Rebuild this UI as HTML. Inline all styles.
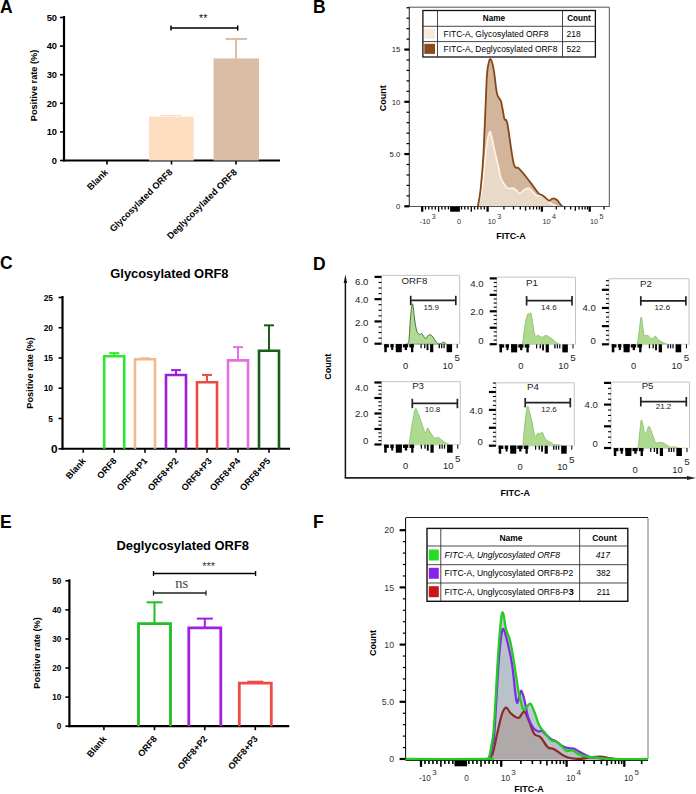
<!DOCTYPE html>
<html><head><meta charset="utf-8"><style>
html,body{margin:0;padding:0;background:#fff;width:696px;height:794px;overflow:hidden}
svg{display:block}
</style></head><body>
<svg width="696" height="794" viewBox="0 0 696 794">
<rect width="696" height="794" fill="#fff"/>
<text x="0" y="12.6" font-size="17.5" font-weight="bold" text-anchor="start" fill="#000" font-family='"Liberation Sans", sans-serif'  >A</text>
<text x="313" y="12.9" font-size="17.5" font-weight="bold" text-anchor="start" fill="#000" font-family='"Liberation Sans", sans-serif'  >B</text>
<text x="0" y="269.4" font-size="17.5" font-weight="bold" text-anchor="start" fill="#000" font-family='"Liberation Sans", sans-serif'  >C</text>
<text x="313" y="269.5" font-size="17.5" font-weight="bold" text-anchor="start" fill="#000" font-family='"Liberation Sans", sans-serif'  >D</text>
<text x="0" y="528" font-size="17.5" font-weight="bold" text-anchor="start" fill="#000" font-family='"Liberation Sans", sans-serif'  >E</text>
<text x="313" y="528" font-size="17.5" font-weight="bold" text-anchor="start" fill="#000" font-family='"Liberation Sans", sans-serif'  >F</text>
<line x1="64" y1="16.0" x2="64" y2="161.5" stroke="#000" stroke-width="2.2" />
<line x1="63" y1="160.5" x2="280" y2="160.5" stroke="#000" stroke-width="2.2" />
<line x1="60" y1="160.5" x2="64" y2="160.5" stroke="#000" stroke-width="1.6" />
<text x="57" y="163.848" font-size="9.3" font-weight="bold" text-anchor="end" fill="#000" font-family='"Liberation Sans", sans-serif'  >0</text>
<line x1="60" y1="131.9" x2="64" y2="131.9" stroke="#000" stroke-width="1.6" />
<text x="57" y="135.24800000000002" font-size="9.3" font-weight="bold" text-anchor="end" fill="#000" font-family='"Liberation Sans", sans-serif'  >10</text>
<line x1="60" y1="103.30000000000001" x2="64" y2="103.30000000000001" stroke="#000" stroke-width="1.6" />
<text x="57" y="106.64800000000001" font-size="9.3" font-weight="bold" text-anchor="end" fill="#000" font-family='"Liberation Sans", sans-serif'  >20</text>
<line x1="60" y1="74.7" x2="64" y2="74.7" stroke="#000" stroke-width="1.6" />
<text x="57" y="78.048" font-size="9.3" font-weight="bold" text-anchor="end" fill="#000" font-family='"Liberation Sans", sans-serif'  >30</text>
<line x1="60" y1="46.10000000000001" x2="64" y2="46.10000000000001" stroke="#000" stroke-width="1.6" />
<text x="57" y="49.44800000000001" font-size="9.3" font-weight="bold" text-anchor="end" fill="#000" font-family='"Liberation Sans", sans-serif'  >40</text>
<line x1="60" y1="17.5" x2="64" y2="17.5" stroke="#000" stroke-width="1.6" />
<text x="57" y="20.848" font-size="9.3" font-weight="bold" text-anchor="end" fill="#000" font-family='"Liberation Sans", sans-serif'  >50</text>
<line x1="107" y1="160.5" x2="107" y2="164.5" stroke="#000" stroke-width="1.6" />
<line x1="171.5" y1="160.5" x2="171.5" y2="164.5" stroke="#000" stroke-width="1.6" />
<line x1="236" y1="160.5" x2="236" y2="164.5" stroke="#000" stroke-width="1.6" />
<rect x="149" y="116.74199999999999" width="44.7" height="43.758" fill="#FDDEC0" stroke="none" stroke-width="0" />
<line x1="171.5" y1="116.74199999999999" x2="171.5" y2="115.59800000000001" stroke="#FDDEC0" stroke-width="1.5" />
<line x1="160" y1="115.59800000000001" x2="181.4" y2="115.59800000000001" stroke="#FDDEC0" stroke-width="1.3" />
<rect x="213.5" y="58.397999999999996" width="45.5" height="102.102" fill="#D9BDA7" stroke="none" stroke-width="0" />
<line x1="236" y1="58.397999999999996" x2="236" y2="38.95" stroke="#D9BDA7" stroke-width="2" />
<line x1="225.5" y1="38.95" x2="247" y2="38.95" stroke="#D9BDA7" stroke-width="2" />
<text transform="translate(33.8,85.5) rotate(-90)" font-size="9.2" font-weight="bold" text-anchor="middle" font-family='"Liberation Sans", sans-serif' dominant-baseline="central">Positive rate (%)</text>
<text transform="translate(108.5,173.0) rotate(-45)" font-size="9.2" font-weight="bold" text-anchor="end" font-family='"Liberation Sans", sans-serif'>Blank</text>
<text transform="translate(173.0,173.0) rotate(-45)" font-size="9.2" font-weight="bold" text-anchor="end" font-family='"Liberation Sans", sans-serif'>Glycosylated ORF8</text>
<text transform="translate(237.5,173.0) rotate(-45)" font-size="9.2" font-weight="bold" text-anchor="end" font-family='"Liberation Sans", sans-serif'>Deglycosylated ORF8</text>
<line x1="171" y1="28" x2="237.7" y2="28" stroke="#000" stroke-width="1.5" />
<line x1="171" y1="25.5" x2="171" y2="30.5" stroke="#000" stroke-width="1.5" />
<line x1="237.7" y1="25.5" x2="237.7" y2="30.5" stroke="#000" stroke-width="1.5" />
<text x="203.2" y="22.2" font-size="10.5" font-weight="normal" text-anchor="middle" fill="#111" font-family='"Liberation Sans", sans-serif'  >**</text>
<line x1="62.5" y1="296.0" x2="62.5" y2="449.75" stroke="#000" stroke-width="2.2" />
<line x1="61.5" y1="448.75" x2="290" y2="448.75" stroke="#000" stroke-width="2.2" />
<line x1="58.5" y1="448.75" x2="62.5" y2="448.75" stroke="#000" stroke-width="1.6" />
<text x="57.5" y="452.998" font-size="11.8" font-weight="bold" text-anchor="end" fill="#000" font-family='"Liberation Sans", sans-serif'  >0</text>
<line x1="58.5" y1="418.5" x2="62.5" y2="418.5" stroke="#000" stroke-width="1.6" />
<text x="53.0" y="421.524" font-size="8.4" font-weight="bold" text-anchor="end" fill="#000" font-family='"Liberation Sans", sans-serif'  >5</text>
<line x1="58.5" y1="388.25" x2="62.5" y2="388.25" stroke="#000" stroke-width="1.6" />
<text x="53.0" y="391.274" font-size="8.4" font-weight="bold" text-anchor="end" fill="#000" font-family='"Liberation Sans", sans-serif'  >10</text>
<line x1="58.5" y1="358.0" x2="62.5" y2="358.0" stroke="#000" stroke-width="1.6" />
<text x="53.0" y="361.024" font-size="8.4" font-weight="bold" text-anchor="end" fill="#000" font-family='"Liberation Sans", sans-serif'  >15</text>
<line x1="58.5" y1="327.75" x2="62.5" y2="327.75" stroke="#000" stroke-width="1.6" />
<text x="53.0" y="330.774" font-size="8.4" font-weight="bold" text-anchor="end" fill="#000" font-family='"Liberation Sans", sans-serif'  >20</text>
<line x1="58.5" y1="297.5" x2="62.5" y2="297.5" stroke="#000" stroke-width="1.6" />
<text x="53.0" y="300.524" font-size="8.4" font-weight="bold" text-anchor="end" fill="#000" font-family='"Liberation Sans", sans-serif'  >25</text>
<line x1="83.25" y1="448.75" x2="83.25" y2="452.75" stroke="#000" stroke-width="1.6" />
<line x1="114.25" y1="448.75" x2="114.25" y2="452.75" stroke="#000" stroke-width="1.6" />
<line x1="145" y1="448.75" x2="145" y2="452.75" stroke="#000" stroke-width="1.6" />
<line x1="176" y1="448.75" x2="176" y2="452.75" stroke="#000" stroke-width="1.6" />
<line x1="207" y1="448.75" x2="207" y2="452.75" stroke="#000" stroke-width="1.6" />
<line x1="238" y1="448.75" x2="238" y2="452.75" stroke="#000" stroke-width="1.6" />
<line x1="269" y1="448.75" x2="269" y2="452.75" stroke="#000" stroke-width="1.6" />
<path d="M104.25 448.75 V356.185 H124.25 V448.75" fill="none" stroke="#2EE82E" stroke-width="2.6"/>
<line x1="114.25" y1="356.185" x2="114.25" y2="353.15999999999997" stroke="#2EE82E" stroke-width="2" />
<line x1="109.25" y1="353.15999999999997" x2="119.25" y2="353.15999999999997" stroke="#2EE82E" stroke-width="2" />
<path d="M135 448.75 V359.21 H155 V448.75" fill="none" stroke="#F4B98A" stroke-width="2.6"/>
<line x1="145" y1="359.21" x2="145" y2="358.3025" stroke="#F4B98A" stroke-width="2" />
<line x1="140" y1="358.3025" x2="150" y2="358.3025" stroke="#F4B98A" stroke-width="2" />
<path d="M166 448.75 V374.94 H186 V448.75" fill="none" stroke="#9A1FD6" stroke-width="2.6"/>
<line x1="176" y1="374.94" x2="176" y2="370.1" stroke="#9A1FD6" stroke-width="2" />
<line x1="171" y1="370.1" x2="181" y2="370.1" stroke="#9A1FD6" stroke-width="2" />
<path d="M197 448.75 V382.2 H217 V448.75" fill="none" stroke="#E84B40" stroke-width="2.6"/>
<line x1="207" y1="382.2" x2="207" y2="374.94" stroke="#E84B40" stroke-width="2" />
<line x1="202" y1="374.94" x2="212" y2="374.94" stroke="#E84B40" stroke-width="2" />
<path d="M228 448.75 V360.42 H248 V448.75" fill="none" stroke="#E46FE4" stroke-width="2.6"/>
<line x1="238" y1="360.42" x2="238" y2="347.11" stroke="#E46FE4" stroke-width="2" />
<line x1="233" y1="347.11" x2="243" y2="347.11" stroke="#E46FE4" stroke-width="2" />
<path d="M259 448.75 V350.74 H279 V448.75" fill="none" stroke="#185F18" stroke-width="2.6"/>
<line x1="269" y1="350.74" x2="269" y2="325.33000000000004" stroke="#185F18" stroke-width="2" />
<line x1="264" y1="325.33000000000004" x2="274" y2="325.33000000000004" stroke="#185F18" stroke-width="2" />
<text transform="translate(30,373) rotate(-90)" font-size="9.2" font-weight="bold" text-anchor="middle" font-family='"Liberation Sans", sans-serif' dominant-baseline="central">Positive rate (%)</text>
<text transform="translate(86.25,461.35) rotate(-48)" font-size="9.1" font-weight="bold" text-anchor="end" font-family='"Liberation Sans", sans-serif'>Blank</text>
<text transform="translate(117.25,461.35) rotate(-48)" font-size="9.1" font-weight="bold" text-anchor="end" font-family='"Liberation Sans", sans-serif'>ORF8</text>
<text transform="translate(148,461.35) rotate(-48)" font-size="9.1" font-weight="bold" text-anchor="end" font-family='"Liberation Sans", sans-serif'>ORF8+P1</text>
<text transform="translate(179,461.35) rotate(-48)" font-size="9.1" font-weight="bold" text-anchor="end" font-family='"Liberation Sans", sans-serif'>ORF8+P2</text>
<text transform="translate(212.5,461.35) rotate(-48)" font-size="9.1" font-weight="bold" text-anchor="end" font-family='"Liberation Sans", sans-serif'>ORF8+P3</text>
<text transform="translate(241,461.35) rotate(-48)" font-size="9.1" font-weight="bold" text-anchor="end" font-family='"Liberation Sans", sans-serif'>ORF8+P4</text>
<text transform="translate(271,461.35) rotate(-48)" font-size="9.1" font-weight="bold" text-anchor="end" font-family='"Liberation Sans", sans-serif'>ORF8+P5</text>
<text x="169.4" y="277.5" font-size="12.9" font-weight="bold" text-anchor="middle" fill="#000" font-family='"Liberation Sans", sans-serif'  >Glycosylated ORF8</text>
<line x1="69.4" y1="579.3" x2="69.4" y2="727.2" stroke="#000" stroke-width="2.2" />
<line x1="68.4" y1="726.2" x2="289.3" y2="726.2" stroke="#000" stroke-width="2.2" />
<line x1="65.4" y1="726.2" x2="69.4" y2="726.2" stroke="#000" stroke-width="1.6" />
<text x="61.400000000000006" y="729.152" font-size="8.2" font-weight="bold" text-anchor="end" fill="#000" font-family='"Liberation Sans", sans-serif'  >0</text>
<line x1="65.4" y1="697.12" x2="69.4" y2="697.12" stroke="#000" stroke-width="1.6" />
<text x="61.400000000000006" y="700.072" font-size="8.2" font-weight="bold" text-anchor="end" fill="#000" font-family='"Liberation Sans", sans-serif'  >10</text>
<line x1="65.4" y1="668.04" x2="69.4" y2="668.04" stroke="#000" stroke-width="1.6" />
<text x="61.400000000000006" y="670.992" font-size="8.2" font-weight="bold" text-anchor="end" fill="#000" font-family='"Liberation Sans", sans-serif'  >20</text>
<line x1="65.4" y1="638.96" x2="69.4" y2="638.96" stroke="#000" stroke-width="1.6" />
<text x="61.400000000000006" y="641.912" font-size="8.2" font-weight="bold" text-anchor="end" fill="#000" font-family='"Liberation Sans", sans-serif'  >30</text>
<line x1="65.4" y1="609.88" x2="69.4" y2="609.88" stroke="#000" stroke-width="1.6" />
<text x="61.400000000000006" y="612.832" font-size="8.2" font-weight="bold" text-anchor="end" fill="#000" font-family='"Liberation Sans", sans-serif'  >40</text>
<line x1="65.4" y1="580.8" x2="69.4" y2="580.8" stroke="#000" stroke-width="1.6" />
<text x="61.400000000000006" y="583.752" font-size="8.2" font-weight="bold" text-anchor="end" fill="#000" font-family='"Liberation Sans", sans-serif'  >50</text>
<line x1="103.9" y1="726.2" x2="103.9" y2="730.2" stroke="#000" stroke-width="1.6" />
<line x1="154.5" y1="726.2" x2="154.5" y2="730.2" stroke="#000" stroke-width="1.6" />
<line x1="204.8" y1="726.2" x2="204.8" y2="730.2" stroke="#000" stroke-width="1.6" />
<line x1="255.3" y1="726.2" x2="255.3" y2="730.2" stroke="#000" stroke-width="1.6" />
<path d="M138.5 726.2 V623.5476 H170.5 V726.2" fill="none" stroke="#22BF22" stroke-width="2.8"/>
<line x1="154.5" y1="623.5476" x2="154.5" y2="602.3191999999999" stroke="#22BF22" stroke-width="2" />
<line x1="146.5" y1="602.3191999999999" x2="162.5" y2="602.3191999999999" stroke="#22BF22" stroke-width="2" />
<path d="M188.8 726.2 V627.9096 H220.8 V726.2" fill="none" stroke="#A21FE0" stroke-width="2.8"/>
<line x1="204.8" y1="627.9096" x2="204.8" y2="618.604" stroke="#A21FE0" stroke-width="2" />
<line x1="196.8" y1="618.604" x2="212.8" y2="618.604" stroke="#A21FE0" stroke-width="2" />
<path d="M239.3 726.2 V683.1616 H271.3 V726.2" fill="none" stroke="#EE4B48" stroke-width="2.8"/>
<line x1="255.3" y1="683.1616" x2="255.3" y2="681.7076000000001" stroke="#EE4B48" stroke-width="2" />
<line x1="247.3" y1="681.7076000000001" x2="263.3" y2="681.7076000000001" stroke="#EE4B48" stroke-width="2" />
<text transform="translate(37,653) rotate(-90)" font-size="9.2" font-weight="bold" text-anchor="middle" font-family='"Liberation Sans", sans-serif' dominant-baseline="central">Positive rate (%)</text>
<text transform="translate(106.9,739.0) rotate(-50)" font-size="9.1" font-weight="bold" text-anchor="end" font-family='"Liberation Sans", sans-serif'>Blank</text>
<text transform="translate(157.5,739.0) rotate(-50)" font-size="9.1" font-weight="bold" text-anchor="end" font-family='"Liberation Sans", sans-serif'>ORF8</text>
<text transform="translate(207.8,739.0) rotate(-50)" font-size="9.1" font-weight="bold" text-anchor="end" font-family='"Liberation Sans", sans-serif'>ORF8+P2</text>
<text transform="translate(258.3,739.0) rotate(-50)" font-size="9.1" font-weight="bold" text-anchor="end" font-family='"Liberation Sans", sans-serif'>ORF8+P3</text>
<text x="182.7" y="549.5" font-size="12.9" font-weight="bold" text-anchor="middle" fill="#000" font-family='"Liberation Sans", sans-serif'  >Deglycosylated ORF8</text>
<line x1="153.5" y1="573.5" x2="255.6" y2="573.5" stroke="#000" stroke-width="1.3" />
<line x1="153.5" y1="571" x2="153.5" y2="576" stroke="#000" stroke-width="1.3" />
<line x1="255.6" y1="571" x2="255.6" y2="576" stroke="#000" stroke-width="1.3" />
<text x="208.6" y="569.8" font-size="11" font-weight="normal" text-anchor="middle" fill="#333" font-family='"Liberation Sans", sans-serif'  >***</text>
<line x1="153.5" y1="593" x2="206" y2="593" stroke="#222" stroke-width="1.3" />
<line x1="153.5" y1="590.5" x2="153.5" y2="595.5" stroke="#222" stroke-width="1.3" />
<line x1="206" y1="590.5" x2="206" y2="595.5" stroke="#222" stroke-width="1.3" />
<text x="181.8" y="588.3" font-size="14.5" font-weight="normal" text-anchor="middle" fill="#444" font-family='"Liberation Serif", serif'  >ns</text>
<line x1="409.3" y1="7.2" x2="609.3" y2="7.2" stroke="#555" stroke-width="1" />
<line x1="609.3" y1="7.2" x2="609.3" y2="206.3" stroke="#555" stroke-width="1" />
<path d="M477.9 206.3 C478.3 203.6 479.6 198.8 480.5 190.0 C481.4 181.2 482.5 172.0 483.5 153.8 C484.5 135.6 485.8 96.0 486.6 81.0 C487.4 66.0 487.8 67.6 488.5 64.0 C489.2 60.4 489.9 58.2 490.8 59.3 C491.7 60.4 492.9 65.1 493.9 70.8 C494.9 76.5 495.8 88.4 497.0 93.6 C498.2 98.8 500.0 97.8 501.2 102.0 C502.4 106.2 503.3 114.9 504.3 118.5 C505.3 122.1 505.8 116.2 507.4 123.7 C508.9 131.2 511.7 155.8 513.6 163.2 C515.5 170.6 516.7 166.2 518.8 168.4 C520.9 170.7 523.8 173.9 526.0 176.7 C528.2 179.5 530.2 182.2 532.3 185.0 C534.4 187.8 536.8 191.6 538.5 193.3 C540.2 195.0 541.0 194.2 542.7 195.4 C544.4 196.6 547.4 200.0 548.9 200.6 C550.4 201.2 550.6 199.3 551.5 199.0 C552.4 198.7 553.2 198.3 554.1 198.5 C555.0 198.7 555.8 198.8 557.0 200.0 C558.2 201.2 560.4 204.4 561.4 205.5 C562.4 206.6 562.7 206.2 563.0 206.3 Z" fill="#D3B59B" stroke="none"/>
<path d="M478.0 206.3 C478.7 203.6 480.8 197.7 482.0 190.0 C483.2 182.3 484.1 168.3 485.0 160.0 C485.9 151.7 486.7 144.7 487.5 140.0 C488.3 135.3 489.0 132.7 489.7 132.0 C490.4 131.3 490.6 132.7 491.5 136.0 C492.4 139.3 493.8 147.0 494.9 151.8 C496.0 156.6 496.9 160.5 498.0 165.0 C499.1 169.5 499.8 175.1 501.2 178.8 C502.6 182.5 505.0 185.4 506.3 187.0 C507.6 188.6 507.9 188.3 509.0 188.5 C510.1 188.7 511.4 187.8 512.6 188.1 C513.8 188.3 514.8 189.1 516.0 190.0 C517.2 190.9 518.5 193.3 519.8 193.3 C521.1 193.3 522.6 190.9 524.0 190.0 C525.4 189.1 526.9 187.9 528.2 188.1 C529.5 188.3 530.6 189.8 532.0 191.0 C533.4 192.2 534.7 194.7 536.5 195.4 C538.3 196.1 541.1 195.0 542.7 195.4 C544.3 195.8 544.8 196.8 546.0 198.0 C547.2 199.2 548.7 201.4 550.0 202.6 C551.3 203.8 552.8 204.4 554.0 205.0 C555.2 205.6 556.7 206.1 557.2 206.3 Z" fill="#E9D9C9" stroke="none"/>
<path d="M478.0 206.3 C478.7 203.6 480.8 197.7 482.0 190.0 C483.2 182.3 484.1 168.3 485.0 160.0 C485.9 151.7 486.7 144.7 487.5 140.0 C488.3 135.3 489.0 132.7 489.7 132.0 C490.4 131.3 490.6 132.7 491.5 136.0 C492.4 139.3 493.8 147.0 494.9 151.8 C496.0 156.6 496.9 160.5 498.0 165.0 C499.1 169.5 499.8 175.1 501.2 178.8 C502.6 182.5 505.0 185.4 506.3 187.0 C507.6 188.6 507.9 188.3 509.0 188.5 C510.1 188.7 511.4 187.8 512.6 188.1 C513.8 188.3 514.8 189.1 516.0 190.0 C517.2 190.9 518.5 193.3 519.8 193.3 C521.1 193.3 522.6 190.9 524.0 190.0 C525.4 189.1 526.9 187.9 528.2 188.1 C529.5 188.3 530.6 189.8 532.0 191.0 C533.4 192.2 534.7 194.7 536.5 195.4 C538.3 196.1 541.1 195.0 542.7 195.4 C544.3 195.8 544.8 196.8 546.0 198.0 C547.2 199.2 548.7 201.4 550.0 202.6 C551.3 203.8 552.8 204.4 554.0 205.0 C555.2 205.6 556.7 206.1 557.2 206.3" fill="none" stroke="#FFF4E6" stroke-width="1.6"/>
<path d="M477.9 206.3 C478.3 203.6 479.6 198.8 480.5 190.0 C481.4 181.2 482.5 172.0 483.5 153.8 C484.5 135.6 485.8 96.0 486.6 81.0 C487.4 66.0 487.8 67.6 488.5 64.0 C489.2 60.4 489.9 58.2 490.8 59.3 C491.7 60.4 492.9 65.1 493.9 70.8 C494.9 76.5 495.8 88.4 497.0 93.6 C498.2 98.8 500.0 97.8 501.2 102.0 C502.4 106.2 503.3 114.9 504.3 118.5 C505.3 122.1 505.8 116.2 507.4 123.7 C508.9 131.2 511.7 155.8 513.6 163.2 C515.5 170.6 516.7 166.2 518.8 168.4 C520.9 170.7 523.8 173.9 526.0 176.7 C528.2 179.5 530.2 182.2 532.3 185.0 C534.4 187.8 536.8 191.6 538.5 193.3 C540.2 195.0 541.0 194.2 542.7 195.4 C544.4 196.6 547.4 200.0 548.9 200.6 C550.4 201.2 550.6 199.3 551.5 199.0 C552.4 198.7 553.2 198.3 554.1 198.5 C555.0 198.7 555.8 198.8 557.0 200.0 C558.2 201.2 560.4 204.4 561.4 205.5 C562.4 206.6 562.7 206.2 563.0 206.3" fill="none" stroke="#84491B" stroke-width="1.8"/>
<line x1="409.3" y1="6.7" x2="409.3" y2="206.8" stroke="#333" stroke-width="1.1" />
<line x1="409.3" y1="206.5" x2="609.8" y2="206.5" stroke="#555" stroke-width="1" />
<line x1="404.3" y1="206.3" x2="409.3" y2="206.3" stroke="#000" stroke-width="2.2" />
<line x1="406.5" y1="195.85000000000002" x2="409.3" y2="195.85000000000002" stroke="#000" stroke-width="1.2" />
<line x1="406.5" y1="185.4" x2="409.3" y2="185.4" stroke="#000" stroke-width="1.2" />
<line x1="406.5" y1="174.95000000000002" x2="409.3" y2="174.95000000000002" stroke="#000" stroke-width="1.2" />
<line x1="406.5" y1="164.5" x2="409.3" y2="164.5" stroke="#000" stroke-width="1.2" />
<line x1="404.3" y1="154.05" x2="409.3" y2="154.05" stroke="#000" stroke-width="2.2" />
<line x1="406.5" y1="143.60000000000002" x2="409.3" y2="143.60000000000002" stroke="#000" stroke-width="1.2" />
<line x1="406.5" y1="133.15000000000003" x2="409.3" y2="133.15000000000003" stroke="#000" stroke-width="1.2" />
<line x1="406.5" y1="122.70000000000002" x2="409.3" y2="122.70000000000002" stroke="#000" stroke-width="1.2" />
<line x1="406.5" y1="112.25000000000001" x2="409.3" y2="112.25000000000001" stroke="#000" stroke-width="1.2" />
<line x1="404.3" y1="101.80000000000001" x2="409.3" y2="101.80000000000001" stroke="#000" stroke-width="2.2" />
<line x1="406.5" y1="91.35000000000002" x2="409.3" y2="91.35000000000002" stroke="#000" stroke-width="1.2" />
<line x1="406.5" y1="80.90000000000002" x2="409.3" y2="80.90000000000002" stroke="#000" stroke-width="1.2" />
<line x1="406.5" y1="70.45000000000002" x2="409.3" y2="70.45000000000002" stroke="#000" stroke-width="1.2" />
<line x1="406.5" y1="60.00000000000003" x2="409.3" y2="60.00000000000003" stroke="#000" stroke-width="1.2" />
<line x1="404.3" y1="49.55000000000001" x2="409.3" y2="49.55000000000001" stroke="#000" stroke-width="2.2" />
<line x1="406.5" y1="39.10000000000002" x2="409.3" y2="39.10000000000002" stroke="#000" stroke-width="1.2" />
<line x1="406.5" y1="28.650000000000034" x2="409.3" y2="28.650000000000034" stroke="#000" stroke-width="1.2" />
<line x1="406.5" y1="18.200000000000017" x2="409.3" y2="18.200000000000017" stroke="#000" stroke-width="1.2" />
<line x1="406.5" y1="7.750000000000028" x2="409.3" y2="7.750000000000028" stroke="#000" stroke-width="1.2" />
<text x="400.3" y="209.072" font-size="7.7" font-weight="normal" text-anchor="end" fill="#222" font-family='"Liberation Sans", sans-serif'  >0</text>
<text x="400.3" y="156.822" font-size="7.7" font-weight="normal" text-anchor="end" fill="#222" font-family='"Liberation Sans", sans-serif'  >5.0</text>
<text x="400.3" y="104.57200000000002" font-size="7.7" font-weight="normal" text-anchor="end" fill="#222" font-family='"Liberation Sans", sans-serif'  >10</text>
<text x="400.3" y="52.32200000000001" font-size="7.7" font-weight="normal" text-anchor="end" fill="#222" font-family='"Liberation Sans", sans-serif'  >15</text>
<line x1="425.48" y1="206.5" x2="425.48" y2="209.5" stroke="#000" stroke-width="1.3" />
<line x1="428.76" y1="206.5" x2="428.76" y2="209.5" stroke="#000" stroke-width="1.3" />
<line x1="432.03999999999996" y1="206.5" x2="432.03999999999996" y2="209.5" stroke="#000" stroke-width="1.3" />
<line x1="435.32" y1="206.5" x2="435.32" y2="209.5" stroke="#000" stroke-width="1.3" />
<line x1="438.6" y1="206.5" x2="438.6" y2="211.7" stroke="#000" stroke-width="1.3" />
<line x1="441.88" y1="206.5" x2="441.88" y2="209.5" stroke="#000" stroke-width="1.3" />
<line x1="445.15999999999997" y1="206.5" x2="445.15999999999997" y2="209.5" stroke="#000" stroke-width="1.3" />
<line x1="448.44" y1="206.5" x2="448.44" y2="209.5" stroke="#000" stroke-width="1.3" />
<line x1="461.52" y1="206.5" x2="461.52" y2="209.5" stroke="#000" stroke-width="1.3" />
<line x1="464.78000000000003" y1="206.5" x2="464.78000000000003" y2="209.5" stroke="#000" stroke-width="1.3" />
<line x1="468.04" y1="206.5" x2="468.04" y2="209.5" stroke="#000" stroke-width="1.3" />
<line x1="471.3" y1="206.5" x2="471.3" y2="211.7" stroke="#000" stroke-width="1.3" />
<line x1="474.56" y1="206.5" x2="474.56" y2="209.5" stroke="#000" stroke-width="1.3" />
<line x1="477.82" y1="206.5" x2="477.82" y2="209.5" stroke="#000" stroke-width="1.3" />
<line x1="481.08000000000004" y1="206.5" x2="481.08000000000004" y2="209.5" stroke="#000" stroke-width="1.3" />
<line x1="484.34000000000003" y1="206.5" x2="484.34000000000003" y2="209.5" stroke="#000" stroke-width="1.3" />
<rect x="450.1" y="206.5" width="9.8" height="5.2" fill="#000" stroke="none" stroke-width="0" />
<line x1="503.9459287645542" y1="206.5" x2="503.9459287645542" y2="209.5" stroke="#000" stroke-width="1.3" />
<line x1="513.5076841312776" y1="206.5" x2="513.5076841312776" y2="209.5" stroke="#000" stroke-width="1.3" />
<line x1="520.2918575291084" y1="206.5" x2="520.2918575291084" y2="209.5" stroke="#000" stroke-width="1.3" />
<line x1="525.5540712354458" y1="206.5" x2="525.5540712354458" y2="210.66" stroke="#000" stroke-width="1.3" />
<line x1="529.8536128958318" y1="206.5" x2="529.8536128958318" y2="209.5" stroke="#000" stroke-width="1.3" />
<line x1="533.4888235727741" y1="206.5" x2="533.4888235727741" y2="209.5" stroke="#000" stroke-width="1.3" />
<line x1="536.6377862936625" y1="206.5" x2="536.6377862936625" y2="209.5" stroke="#000" stroke-width="1.3" />
<line x1="539.4153682625554" y1="206.5" x2="539.4153682625554" y2="209.5" stroke="#000" stroke-width="1.3" />
<line x1="556.2892337927383" y1="206.5" x2="556.2892337927383" y2="209.5" stroke="#000" stroke-width="1.3" />
<line x1="564.7063959755999" y1="206.5" x2="564.7063959755999" y2="209.5" stroke="#000" stroke-width="1.3" />
<line x1="570.6784675854766" y1="206.5" x2="570.6784675854766" y2="209.5" stroke="#000" stroke-width="1.3" />
<line x1="575.3107662072617" y1="206.5" x2="575.3107662072617" y2="210.66" stroke="#000" stroke-width="1.3" />
<line x1="579.0956297683382" y1="206.5" x2="579.0956297683382" y2="209.5" stroke="#000" stroke-width="1.3" />
<line x1="582.2956863126815" y1="206.5" x2="582.2956863126815" y2="209.5" stroke="#000" stroke-width="1.3" />
<line x1="585.0677013782149" y1="206.5" x2="585.0677013782149" y2="209.5" stroke="#000" stroke-width="1.3" />
<line x1="587.5127919511998" y1="206.5" x2="587.5127919511998" y2="209.5" stroke="#000" stroke-width="1.3" />
<line x1="604.0892337927384" y1="206.5" x2="604.0892337927384" y2="209.5" stroke="#000" stroke-width="1.3" />
<line x1="422.2" y1="206.5" x2="422.2" y2="211.7" stroke="#000" stroke-width="2.3" />
<line x1="487.6" y1="206.5" x2="487.6" y2="211.7" stroke="#000" stroke-width="2.3" />
<line x1="541.9" y1="206.5" x2="541.9" y2="211.7" stroke="#000" stroke-width="2.3" />
<line x1="589.7" y1="206.5" x2="589.7" y2="211.7" stroke="#000" stroke-width="2.3" />
<text x="419.8" y="223.7" font-size="7.3" fill="#333" font-family='"Liberation Sans", sans-serif'>-10<tspan dy="-4.82" dx="1.3" font-size="7.15">3</tspan></text>
<text x="459" y="223.7" font-size="7.3" font-weight="normal" text-anchor="middle" fill="#333" font-family='"Liberation Sans", sans-serif'  >0</text>
<text x="487.8" y="223.7" font-size="7.3" fill="#333" font-family='"Liberation Sans", sans-serif'>10<tspan dy="-4.82" dx="1.3" font-size="7.15">3</tspan></text>
<text x="542.5" y="223.7" font-size="7.3" fill="#333" font-family='"Liberation Sans", sans-serif'>10<tspan dy="-4.82" dx="1.3" font-size="7.15">4</tspan></text>
<text x="590" y="223.7" font-size="7.3" fill="#333" font-family='"Liberation Sans", sans-serif'>10<tspan dy="-4.82" dx="1.3" font-size="7.15">5</tspan></text>
<text transform="translate(383,98.2) rotate(-90)" font-size="9" font-weight="bold" text-anchor="middle" font-family='"Liberation Sans", sans-serif' dominant-baseline="central">Count</text>
<text x="511" y="239" font-size="9" font-weight="bold" text-anchor="middle" fill="#000" font-family='"Liberation Sans", sans-serif'  >FITC-A</text>
<rect x="422.9" y="10.5" width="172.5" height="46.5" fill="#fff" stroke="#111" stroke-width="1.3" />
<line x1="422.9" y1="26.3" x2="595.4" y2="26.3" stroke="#333" stroke-width="0.9" />
<line x1="422.9" y1="41.6" x2="595.4" y2="41.6" stroke="#333" stroke-width="0.9" />
<line x1="437.5" y1="10.5" x2="437.5" y2="57" stroke="#333" stroke-width="0.9" />
<line x1="562.5" y1="10.5" x2="562.5" y2="57" stroke="#333" stroke-width="0.9" />
<rect x="424.3" y="28.7" width="10.7" height="10.1" fill="#FBEADB" stroke="none" stroke-width="0" />
<rect x="424.3" y="43.8" width="10.7" height="10.1" fill="#8A4A1A" stroke="none" stroke-width="0" />
<text x="494" y="21.3" font-size="8.2" font-weight="bold" text-anchor="middle" fill="#000" font-family='"Liberation Sans", sans-serif'  >Name</text>
<text x="579" y="21.3" font-size="8.2" font-weight="bold" text-anchor="middle" fill="#000" font-family='"Liberation Sans", sans-serif'  >Count</text>
<text x="443.5" y="37" font-size="8.45" font-weight="normal" text-anchor="start" fill="#000" font-family='"Liberation Sans", sans-serif'  >FITC-A, Glycosylated ORF8</text>
<text x="443.5" y="52.4" font-size="8.45" font-weight="normal" text-anchor="start" fill="#000" font-family='"Liberation Sans", sans-serif'  >FITC-A, Deglycosylated ORF8</text>
<text x="566.5" y="37" font-size="8.45" font-weight="normal" text-anchor="start" fill="#000" font-family='"Liberation Sans", sans-serif'  >218</text>
<text x="566.5" y="52.4" font-size="8.45" font-weight="normal" text-anchor="start" fill="#000" font-family='"Liberation Sans", sans-serif'  >522</text>
<line x1="345.4" y1="281" x2="345.4" y2="478" stroke="#111" stroke-width="1.5" />
<path d="M345.4 274.5 L347.1 283 L343.7 283 Z" fill="#111"/>
<line x1="344.7" y1="477.9" x2="689" y2="477.9" stroke="#222" stroke-width="1.8" />
<path d="M696 477.9 L687 475.9 L687 479.9 Z" fill="#222"/>
<text transform="translate(328.3,366.7) rotate(-90)" font-size="9" font-weight="bold" text-anchor="middle" font-family='"Liberation Sans", sans-serif' dominant-baseline="central">Count</text>
<text x="515.3" y="496" font-size="9" font-weight="bold" text-anchor="middle" fill="#000" font-family='"Liberation Sans", sans-serif'  >FITC-A</text>
<path d="M381.5 344.2 V275.4 H459.7 V344.2" fill="none" stroke="#bdbdbd" stroke-width="0.9"/>
<path d="M406.0 344.2 C406.3 344.1 407.3 344.6 407.8 343.6 C408.3 342.6 408.8 342.3 409.2 338.0 C409.6 333.7 409.9 323.7 410.5 318.0 C411.1 312.3 411.8 303.4 412.5 303.7 C413.2 304.0 414.0 315.4 414.7 320.0 C415.4 324.6 416.0 328.7 416.8 331.1 C417.6 333.5 418.8 334.2 419.6 334.6 C420.4 335.0 420.7 332.8 421.7 333.5 C422.7 334.2 424.5 338.4 425.5 338.8 C426.5 339.1 426.9 336.2 427.9 335.6 C428.9 335.0 430.1 334.4 431.4 335.3 C432.7 336.2 434.5 339.8 435.6 341.2 C436.8 342.6 437.4 343.2 438.3 343.6 C439.2 344.0 440.2 343.6 441.1 343.4 C442.0 343.2 443.0 342.1 443.9 342.2 C444.8 342.3 446.1 343.9 446.5 344.2 Z" fill="#B2DC96" stroke="#3F5E33" stroke-width="0.9"/>
<line x1="381.5" y1="344.2" x2="459.7" y2="344.2" stroke="#c9dcbc" stroke-width="0.9" />
<rect x="374.5" y="342.59999999999997" width="7" height="2.2" fill="#000" stroke="none" stroke-width="0" />
<rect x="378.5" y="337.5825" width="3" height="1.1" fill="#000" stroke="none" stroke-width="0" />
<rect x="378.5" y="332.015" width="3" height="1.1" fill="#000" stroke="none" stroke-width="0" />
<rect x="378.5" y="326.4475" width="3" height="1.1" fill="#000" stroke="none" stroke-width="0" />
<rect x="374.5" y="320.33" width="7" height="2.2" fill="#000" stroke="none" stroke-width="0" />
<rect x="378.5" y="315.3125" width="3" height="1.1" fill="#000" stroke="none" stroke-width="0" />
<rect x="378.5" y="309.745" width="3" height="1.1" fill="#000" stroke="none" stroke-width="0" />
<rect x="378.5" y="304.1775" width="3" height="1.1" fill="#000" stroke="none" stroke-width="0" />
<rect x="374.5" y="298.05999999999995" width="7" height="2.2" fill="#000" stroke="none" stroke-width="0" />
<rect x="378.5" y="293.04249999999996" width="3" height="1.1" fill="#000" stroke="none" stroke-width="0" />
<rect x="378.5" y="287.47499999999997" width="3" height="1.1" fill="#000" stroke="none" stroke-width="0" />
<rect x="378.5" y="281.90749999999997" width="3" height="1.1" fill="#000" stroke="none" stroke-width="0" />
<rect x="374.5" y="275.78999999999996" width="7" height="2.2" fill="#000" stroke="none" stroke-width="0" />
<text x="368.4" y="343.29999999999995" font-size="9.6" font-weight="normal" text-anchor="end" fill="#222" font-family='"Liberation Sans", sans-serif'  >0</text>
<text x="368.4" y="325.5" font-size="9.6" font-weight="normal" text-anchor="end" fill="#222" font-family='"Liberation Sans", sans-serif'  >2.0</text>
<text x="368.4" y="303.2" font-size="9.6" font-weight="normal" text-anchor="end" fill="#222" font-family='"Liberation Sans", sans-serif'  >4.0</text>
<text x="368.4" y="284.9" font-size="9.6" font-weight="normal" text-anchor="end" fill="#222" font-family='"Liberation Sans", sans-serif'  >6.0</text>
<rect x="384.3" y="344.2" width="4.6000000000000005" height="3.2" fill="#000" stroke="none" stroke-width="0" />
<rect x="390.3" y="344.2" width="3.3999999999999986" height="3.2" fill="#000" stroke="none" stroke-width="0" />
<rect x="395.8" y="344.2" width="6.0" height="3.2" fill="#000" stroke="none" stroke-width="0" />
<rect x="402.9" y="344.2" width="5.200000000000003" height="3.2" fill="#000" stroke="none" stroke-width="0" />
<rect x="409.3" y="344.2" width="4.599999999999998" height="3.2" fill="#000" stroke="none" stroke-width="0" />
<rect x="384.3" y="344.2" width="2.5" height="8" fill="#000" stroke="none" stroke-width="0" />
<rect x="391.2" y="344.2" width="2.0" height="5.8" fill="#000" stroke="none" stroke-width="0" />
<rect x="395.8" y="344.2" width="6.0" height="8" fill="#000" stroke="none" stroke-width="0" />
<rect x="404.7" y="344.2" width="2.3000000000000007" height="5.8" fill="#000" stroke="none" stroke-width="0" />
<rect x="411.0" y="344.2" width="2.3000000000000007" height="8" fill="#000" stroke="none" stroke-width="0" />
<rect x="420.5" y="344.2" width="1.2000000000000028" height="4" fill="#000" stroke="none" stroke-width="0" />
<rect x="424.1" y="344.2" width="1.2999999999999972" height="4" fill="#000" stroke="none" stroke-width="0" />
<rect x="426.6" y="344.2" width="1.7999999999999972" height="6" fill="#000" stroke="none" stroke-width="0" />
<rect x="430.1" y="344.2" width="3.1999999999999957" height="8" fill="#000" stroke="none" stroke-width="0" />
<rect x="438.6" y="344.2" width="1.2999999999999972" height="4" fill="#000" stroke="none" stroke-width="0" />
<rect x="441.1" y="344.2" width="1.1999999999999957" height="4" fill="#000" stroke="none" stroke-width="0" />
<rect x="443.5" y="344.2" width="1.2000000000000028" height="4" fill="#000" stroke="none" stroke-width="0" />
<rect x="446.6" y="344.2" width="5.5" height="8" fill="#000" stroke="none" stroke-width="0" />
<rect x="456.7" y="344.2" width="1.0" height="4" fill="#000" stroke="none" stroke-width="0" />
<text x="405.5" y="368.7" font-size="9.3" font-weight="normal" text-anchor="middle" fill="#222" font-family='"Liberation Sans", sans-serif'  >0</text>
<text x="442.6" y="368.7" font-size="9.3" font-weight="normal" text-anchor="start" fill="#222" font-family='"Liberation Sans", sans-serif'  >10</text>
<text x="454.5" y="361.0" font-size="9.8" font-weight="normal" text-anchor="start" fill="#222" font-family='"Liberation Sans", sans-serif'  >5</text>
<line x1="410.7" y1="300.4" x2="455.8" y2="300.4" stroke="#222" stroke-width="1.7" />
<line x1="410.7" y1="295.79999999999995" x2="410.7" y2="305.2" stroke="#222" stroke-width="1.7" />
<line x1="455.8" y1="295.79999999999995" x2="455.8" y2="305.2" stroke="#222" stroke-width="1.7" />
<text x="431.25" y="309.9" font-size="8" font-weight="normal" text-anchor="middle" fill="#222" font-family='"Liberation Sans", sans-serif'  >15.9</text>
<text x="414.4" y="284.0" font-size="9.7" font-weight="normal" text-anchor="middle" fill="#222" font-family='"Liberation Sans", sans-serif'  >ORF8</text>
<path d="M496.7 344.4 V277.2 H575.5 V344.4" fill="none" stroke="#bdbdbd" stroke-width="0.9"/>
<path d="M521.0 344.4 C521.3 344.2 521.9 346.2 522.6 343.0 C523.3 339.8 524.1 329.8 525.0 325.0 C525.9 320.2 527.0 315.7 527.8 314.0 C528.5 312.3 528.9 315.0 529.5 315.0 C530.1 315.0 530.3 310.7 531.2 314.0 C532.1 317.3 533.6 331.2 534.7 334.7 C535.9 338.2 537.0 334.8 538.1 335.2 C539.2 335.6 540.3 337.1 541.6 337.2 C542.9 337.2 544.3 335.4 545.9 335.5 C547.5 335.6 549.5 337.1 551.0 338.1 C552.5 339.1 553.5 340.4 555.0 341.5 C556.5 342.6 558.9 343.9 559.7 344.4 Z" fill="#AEDA90" stroke="#84BA63" stroke-width="0.8"/>
<line x1="496.7" y1="344.4" x2="575.5" y2="344.4" stroke="#c9dcbc" stroke-width="0.9" />
<rect x="489.7" y="343.09999999999997" width="7" height="2.2" fill="#000" stroke="none" stroke-width="0" />
<rect x="493.7" y="339.53749999999997" width="3" height="1.1" fill="#000" stroke="none" stroke-width="0" />
<rect x="493.7" y="335.42499999999995" width="3" height="1.1" fill="#000" stroke="none" stroke-width="0" />
<rect x="493.7" y="331.3125" width="3" height="1.1" fill="#000" stroke="none" stroke-width="0" />
<rect x="489.7" y="326.65" width="7" height="2.2" fill="#000" stroke="none" stroke-width="0" />
<rect x="493.7" y="323.0875" width="3" height="1.1" fill="#000" stroke="none" stroke-width="0" />
<rect x="493.7" y="318.97499999999997" width="3" height="1.1" fill="#000" stroke="none" stroke-width="0" />
<rect x="493.7" y="314.8625" width="3" height="1.1" fill="#000" stroke="none" stroke-width="0" />
<rect x="489.7" y="310.2" width="7" height="2.2" fill="#000" stroke="none" stroke-width="0" />
<rect x="493.7" y="306.6375" width="3" height="1.1" fill="#000" stroke="none" stroke-width="0" />
<rect x="493.7" y="302.525" width="3" height="1.1" fill="#000" stroke="none" stroke-width="0" />
<rect x="493.7" y="298.4125" width="3" height="1.1" fill="#000" stroke="none" stroke-width="0" />
<rect x="489.7" y="293.75" width="7" height="2.2" fill="#000" stroke="none" stroke-width="0" />
<rect x="493.7" y="290.1875" width="3" height="1.1" fill="#000" stroke="none" stroke-width="0" />
<rect x="493.7" y="286.075" width="3" height="1.1" fill="#000" stroke="none" stroke-width="0" />
<rect x="493.7" y="281.96250000000003" width="3" height="1.1" fill="#000" stroke="none" stroke-width="0" />
<rect x="489.7" y="277.29999999999995" width="7" height="2.2" fill="#000" stroke="none" stroke-width="0" />
<text x="483.59999999999997" y="343.7" font-size="9.6" font-weight="normal" text-anchor="end" fill="#222" font-family='"Liberation Sans", sans-serif'  >0</text>
<text x="483.59999999999997" y="315.2" font-size="9.6" font-weight="normal" text-anchor="end" fill="#222" font-family='"Liberation Sans", sans-serif'  >2.0</text>
<text x="483.59999999999997" y="287.2" font-size="9.6" font-weight="normal" text-anchor="end" fill="#222" font-family='"Liberation Sans", sans-serif'  >4.0</text>
<rect x="499.52148337595906" y="344.4" width="4.63529411764706" height="3.2" fill="#000" stroke="none" stroke-width="0" />
<rect x="505.5675191815857" y="344.4" width="3.4260869565217384" height="3.2" fill="#000" stroke="none" stroke-width="0" />
<rect x="511.10971867007675" y="344.4" width="6.0460358056266" height="3.2" fill="#000" stroke="none" stroke-width="0" />
<rect x="518.2641943734016" y="344.4" width="5.239897698209723" height="3.2" fill="#000" stroke="none" stroke-width="0" />
<rect x="524.7132992327365" y="344.4" width="4.6352941176470575" height="3.2" fill="#000" stroke="none" stroke-width="0" />
<rect x="499.52148337595906" y="344.4" width="2.51918158567775" height="8" fill="#000" stroke="none" stroke-width="0" />
<rect x="506.47442455242964" y="344.4" width="2.0153452685422" height="5.8" fill="#000" stroke="none" stroke-width="0" />
<rect x="511.10971867007675" y="344.4" width="6.0460358056266" height="8" fill="#000" stroke="none" stroke-width="0" />
<rect x="520.0780051150895" y="344.4" width="2.3176470588235305" height="5.8" fill="#000" stroke="none" stroke-width="0" />
<rect x="526.4263427109975" y="344.4" width="2.3176470588235305" height="8" fill="#000" stroke="none" stroke-width="0" />
<rect x="535.9992327365729" y="344.4" width="1.2092071611253228" height="4" fill="#000" stroke="none" stroke-width="0" />
<rect x="539.6268542199489" y="344.4" width="1.3099744245524272" height="4" fill="#000" stroke="none" stroke-width="0" />
<rect x="542.1460358056266" y="344.4" width="1.8138107416879772" height="6" fill="#000" stroke="none" stroke-width="0" />
<rect x="545.6728900255755" y="344.4" width="3.224552429667516" height="8" fill="#000" stroke="none" stroke-width="0" />
<rect x="554.2381074168798" y="344.4" width="1.3099744245524272" height="4" fill="#000" stroke="none" stroke-width="0" />
<rect x="556.7572890025575" y="344.4" width="1.2092071611253157" height="4" fill="#000" stroke="none" stroke-width="0" />
<rect x="559.1757033248082" y="344.4" width="1.2092071611253228" height="4" fill="#000" stroke="none" stroke-width="0" />
<rect x="562.2994884910486" y="344.4" width="5.54219948849105" height="8" fill="#000" stroke="none" stroke-width="0" />
<rect x="572.4769820971867" y="344.4" width="1.0076726342711" height="4" fill="#000" stroke="none" stroke-width="0" />
<text x="520.8841432225064" y="368.9" font-size="9.3" font-weight="normal" text-anchor="middle" fill="#222" font-family='"Liberation Sans", sans-serif'  >0</text>
<text x="558.2687979539642" y="368.9" font-size="9.3" font-weight="normal" text-anchor="start" fill="#222" font-family='"Liberation Sans", sans-serif'  >10</text>
<text x="570.2601023017903" y="361.2" font-size="9.8" font-weight="normal" text-anchor="start" fill="#222" font-family='"Liberation Sans", sans-serif'  >5</text>
<line x1="526.6" y1="300.7" x2="572" y2="300.7" stroke="#222" stroke-width="1.7" />
<line x1="526.6" y1="296.09999999999997" x2="526.6" y2="305.5" stroke="#222" stroke-width="1.7" />
<line x1="572" y1="296.09999999999997" x2="572" y2="305.5" stroke="#222" stroke-width="1.7" />
<text x="548.9" y="310.2" font-size="8" font-weight="normal" text-anchor="middle" fill="#222" font-family='"Liberation Sans", sans-serif'  >14.6</text>
<text x="532" y="286.0" font-size="9.7" font-weight="normal" text-anchor="middle" fill="#222" font-family='"Liberation Sans", sans-serif'  >P1</text>
<path d="M608.9 344.3 V278.7 H689 V344.3" fill="none" stroke="#bdbdbd" stroke-width="0.9"/>
<path d="M636.0 344.3 C636.2 344.1 637.0 345.4 637.5 343.0 C638.0 340.6 638.7 334.3 639.3 330.0 C639.9 325.7 640.5 318.0 641.1 317.2 C641.7 316.4 642.1 322.1 642.6 325.0 C643.1 327.9 643.4 332.8 644.0 334.5 C644.6 336.2 645.3 335.2 646.0 335.4 C646.7 335.6 647.4 335.1 648.3 335.7 C649.2 336.2 650.4 338.6 651.6 338.7 C652.8 338.8 654.4 336.2 655.5 336.3 C656.6 336.4 656.9 338.6 658.0 339.5 C659.1 340.4 660.5 341.2 662.0 342.0 C663.5 342.8 666.2 343.9 667.0 344.3 Z" fill="#AEDA90" stroke="#84BA63" stroke-width="0.8"/>
<line x1="608.9" y1="344.3" x2="689" y2="344.3" stroke="#c9dcbc" stroke-width="0.9" />
<rect x="601.9" y="343.2" width="7" height="2.2" fill="#000" stroke="none" stroke-width="0" />
<rect x="605.9" y="339.2075" width="3" height="1.1" fill="#000" stroke="none" stroke-width="0" />
<rect x="605.9" y="334.665" width="3" height="1.1" fill="#000" stroke="none" stroke-width="0" />
<rect x="605.9" y="330.1225" width="3" height="1.1" fill="#000" stroke="none" stroke-width="0" />
<rect x="601.9" y="325.03" width="7" height="2.2" fill="#000" stroke="none" stroke-width="0" />
<rect x="605.9" y="321.03749999999997" width="3" height="1.1" fill="#000" stroke="none" stroke-width="0" />
<rect x="605.9" y="316.495" width="3" height="1.1" fill="#000" stroke="none" stroke-width="0" />
<rect x="605.9" y="311.9525" width="3" height="1.1" fill="#000" stroke="none" stroke-width="0" />
<rect x="601.9" y="306.86" width="7" height="2.2" fill="#000" stroke="none" stroke-width="0" />
<rect x="605.9" y="302.8675" width="3" height="1.1" fill="#000" stroke="none" stroke-width="0" />
<rect x="605.9" y="298.32500000000005" width="3" height="1.1" fill="#000" stroke="none" stroke-width="0" />
<rect x="605.9" y="293.7825" width="3" height="1.1" fill="#000" stroke="none" stroke-width="0" />
<rect x="601.9" y="288.69" width="7" height="2.2" fill="#000" stroke="none" stroke-width="0" />
<rect x="605.9" y="284.6975" width="3" height="1.1" fill="#000" stroke="none" stroke-width="0" />
<rect x="605.9" y="280.15500000000003" width="3" height="1.1" fill="#000" stroke="none" stroke-width="0" />
<text x="595.8" y="343.7" font-size="9.6" font-weight="normal" text-anchor="end" fill="#222" font-family='"Liberation Sans", sans-serif'  >0</text>
<text x="595.8" y="311.29999999999995" font-size="9.6" font-weight="normal" text-anchor="end" fill="#222" font-family='"Liberation Sans", sans-serif'  >4.0</text>
<rect x="611.7680306905371" y="344.3" width="4.711764705882356" height="3.2" fill="#000" stroke="none" stroke-width="0" />
<rect x="617.9138107416879" y="344.3" width="3.482608695652174" height="3.2" fill="#000" stroke="none" stroke-width="0" />
<rect x="623.547442455243" y="344.3" width="6.145780051150898" height="3.2" fill="#000" stroke="none" stroke-width="0" />
<rect x="630.8199488491049" y="344.3" width="5.326342710997448" height="3.2" fill="#000" stroke="none" stroke-width="0" />
<rect x="637.3754475703324" y="344.3" width="4.711764705882353" height="3.2" fill="#000" stroke="none" stroke-width="0" />
<rect x="611.7680306905371" y="344.3" width="2.560741687979541" height="8" fill="#000" stroke="none" stroke-width="0" />
<rect x="618.8356777493606" y="344.3" width="2.0485933503836327" height="5.8" fill="#000" stroke="none" stroke-width="0" />
<rect x="623.547442455243" y="344.3" width="6.145780051150898" height="8" fill="#000" stroke="none" stroke-width="0" />
<rect x="632.6636828644502" y="344.3" width="2.3558823529411783" height="5.8" fill="#000" stroke="none" stroke-width="0" />
<rect x="639.1167519181586" y="344.3" width="2.3558823529411783" height="8" fill="#000" stroke="none" stroke-width="0" />
<rect x="648.8475703324808" y="344.3" width="1.2291560102301826" height="4" fill="#000" stroke="none" stroke-width="0" />
<rect x="652.5350383631713" y="344.3" width="1.3315856777493582" height="4" fill="#000" stroke="none" stroke-width="0" />
<rect x="655.0957800511509" y="344.3" width="1.8437340153452664" height="6" fill="#000" stroke="none" stroke-width="0" />
<rect x="658.6808184143223" y="344.3" width="3.2777493606138077" height="8" fill="#000" stroke="none" stroke-width="0" />
<rect x="667.3873401534527" y="344.3" width="1.3315856777493582" height="4" fill="#000" stroke="none" stroke-width="0" />
<rect x="669.9480818414322" y="344.3" width="1.2291560102301753" height="4" fill="#000" stroke="none" stroke-width="0" />
<rect x="672.4063938618926" y="344.3" width="1.2291560102301826" height="4" fill="#000" stroke="none" stroke-width="0" />
<rect x="675.5817135549872" y="344.3" width="5.63363171355499" height="8" fill="#000" stroke="none" stroke-width="0" />
<rect x="685.9271099744245" y="344.3" width="1.0242966751918163" height="4" fill="#000" stroke="none" stroke-width="0" />
<text x="633.4831202046036" y="368.8" font-size="9.3" font-weight="normal" text-anchor="middle" fill="#222" font-family='"Liberation Sans", sans-serif'  >0</text>
<text x="671.48452685422" y="368.8" font-size="9.3" font-weight="normal" text-anchor="start" fill="#222" font-family='"Liberation Sans", sans-serif'  >10</text>
<text x="683.6736572890026" y="361.1" font-size="9.8" font-weight="normal" text-anchor="start" fill="#222" font-family='"Liberation Sans", sans-serif'  >5</text>
<line x1="640.8" y1="300.8" x2="685.9" y2="300.8" stroke="#222" stroke-width="1.7" />
<line x1="640.8" y1="296.2" x2="640.8" y2="305.6" stroke="#222" stroke-width="1.7" />
<line x1="685.9" y1="296.2" x2="685.9" y2="305.6" stroke="#222" stroke-width="1.7" />
<text x="662.3499999999999" y="310.3" font-size="8" font-weight="normal" text-anchor="middle" fill="#222" font-family='"Liberation Sans", sans-serif'  >12.6</text>
<text x="646" y="287.2" font-size="9.7" font-weight="normal" text-anchor="middle" fill="#222" font-family='"Liberation Sans", sans-serif'  >P2</text>
<path d="M381.4 444.7 V381.6 H460.3 V444.7" fill="none" stroke="#bdbdbd" stroke-width="0.9"/>
<path d="M407.5 444.7 C407.8 444.4 408.4 446.3 409.2 443.0 C409.9 439.7 411.0 430.7 412.0 425.0 C413.0 419.3 414.3 410.9 415.3 408.9 C416.3 406.9 417.0 410.9 418.0 413.0 C419.0 415.1 419.9 418.0 421.1 421.3 C422.3 424.6 424.1 431.7 425.2 432.8 C426.3 433.9 426.9 428.0 427.7 427.9 C428.5 427.8 429.1 430.4 430.2 432.0 C431.3 433.6 432.9 436.9 434.3 437.8 C435.7 438.7 437.0 437.0 438.4 437.5 C439.8 438.0 441.3 439.9 442.6 440.8 C443.9 441.7 444.8 442.4 446.0 443.0 C447.2 443.6 449.3 444.4 450.0 444.7 Z" fill="#AEDA90" stroke="#84BA63" stroke-width="0.8"/>
<line x1="381.4" y1="444.7" x2="460.3" y2="444.7" stroke="#c9dcbc" stroke-width="0.9" />
<rect x="374.4" y="443.4" width="7" height="2.2" fill="#000" stroke="none" stroke-width="0" />
<rect x="378.4" y="440.075" width="3" height="1.1" fill="#000" stroke="none" stroke-width="0" />
<rect x="378.4" y="436.2" width="3" height="1.1" fill="#000" stroke="none" stroke-width="0" />
<rect x="378.4" y="432.325" width="3" height="1.1" fill="#000" stroke="none" stroke-width="0" />
<rect x="374.4" y="427.9" width="7" height="2.2" fill="#000" stroke="none" stroke-width="0" />
<rect x="378.4" y="424.575" width="3" height="1.1" fill="#000" stroke="none" stroke-width="0" />
<rect x="378.4" y="420.7" width="3" height="1.1" fill="#000" stroke="none" stroke-width="0" />
<rect x="378.4" y="416.825" width="3" height="1.1" fill="#000" stroke="none" stroke-width="0" />
<rect x="374.4" y="412.4" width="7" height="2.2" fill="#000" stroke="none" stroke-width="0" />
<rect x="378.4" y="409.075" width="3" height="1.1" fill="#000" stroke="none" stroke-width="0" />
<rect x="378.4" y="405.2" width="3" height="1.1" fill="#000" stroke="none" stroke-width="0" />
<rect x="378.4" y="401.325" width="3" height="1.1" fill="#000" stroke="none" stroke-width="0" />
<rect x="374.4" y="396.9" width="7" height="2.2" fill="#000" stroke="none" stroke-width="0" />
<rect x="378.4" y="393.575" width="3" height="1.1" fill="#000" stroke="none" stroke-width="0" />
<rect x="378.4" y="389.7" width="3" height="1.1" fill="#000" stroke="none" stroke-width="0" />
<rect x="378.4" y="385.825" width="3" height="1.1" fill="#000" stroke="none" stroke-width="0" />
<rect x="374.4" y="381.4" width="7" height="2.2" fill="#000" stroke="none" stroke-width="0" />
<text x="368.29999999999995" y="444.2" font-size="9.6" font-weight="normal" text-anchor="end" fill="#222" font-family='"Liberation Sans", sans-serif'  >0</text>
<text x="368.29999999999995" y="417.2" font-size="9.6" font-weight="normal" text-anchor="end" fill="#222" font-family='"Liberation Sans", sans-serif'  >2.0</text>
<text x="368.29999999999995" y="390.79999999999995" font-size="9.6" font-weight="normal" text-anchor="end" fill="#222" font-family='"Liberation Sans", sans-serif'  >4.0</text>
<rect x="384.2250639386189" y="444.7" width="4.641176470588239" height="3.2" fill="#000" stroke="none" stroke-width="0" />
<rect x="390.27877237851663" y="444.7" width="3.4304347826086965" height="3.2" fill="#000" stroke="none" stroke-width="0" />
<rect x="395.8280051150895" y="444.7" width="6.053708439897703" height="3.2" fill="#000" stroke="none" stroke-width="0" />
<rect x="402.9915601023018" y="444.7" width="5.246547314578011" height="3.2" fill="#000" stroke="none" stroke-width="0" />
<rect x="409.44884910485933" y="444.7" width="4.641176470588237" height="3.2" fill="#000" stroke="none" stroke-width="0" />
<rect x="384.2250639386189" y="444.7" width="2.5223785166240424" height="8" fill="#000" stroke="none" stroke-width="0" />
<rect x="391.18682864450125" y="444.7" width="2.017902813299234" height="5.8" fill="#000" stroke="none" stroke-width="0" />
<rect x="395.8280051150895" y="444.7" width="6.053708439897703" height="8" fill="#000" stroke="none" stroke-width="0" />
<rect x="404.8076726342711" y="444.7" width="2.32058823529412" height="5.8" fill="#000" stroke="none" stroke-width="0" />
<rect x="411.1640664961637" y="444.7" width="2.32058823529412" height="8" fill="#000" stroke="none" stroke-width="0" />
<rect x="420.74910485933503" y="444.7" width="1.2107416879795434" height="4" fill="#000" stroke="none" stroke-width="0" />
<rect x="424.38132992327365" y="444.7" width="1.3116368286444993" height="4" fill="#000" stroke="none" stroke-width="0" />
<rect x="426.9037084398977" y="444.7" width="1.8161125319693077" height="6" fill="#000" stroke="none" stroke-width="0" />
<rect x="430.4350383631714" y="444.7" width="3.22864450127877" height="8" fill="#000" stroke="none" stroke-width="0" />
<rect x="439.0111253196931" y="444.7" width="1.3116368286444993" height="4" fill="#000" stroke="none" stroke-width="0" />
<rect x="441.53350383631715" y="444.7" width="1.210741687979536" height="4" fill="#000" stroke="none" stroke-width="0" />
<rect x="443.95498721227625" y="444.7" width="1.2107416879795434" height="4" fill="#000" stroke="none" stroke-width="0" />
<rect x="447.08273657289004" y="444.7" width="5.549232736572893" height="8" fill="#000" stroke="none" stroke-width="0" />
<rect x="457.2731457800512" y="444.7" width="1.008951406649617" height="4" fill="#000" stroke="none" stroke-width="0" />
<text x="405.6148337595908" y="469.2" font-size="9.3" font-weight="normal" text-anchor="middle" fill="#222" font-family='"Liberation Sans", sans-serif'  >0</text>
<text x="443.0469309462916" y="469.2" font-size="9.3" font-weight="normal" text-anchor="start" fill="#222" font-family='"Liberation Sans", sans-serif'  >10</text>
<text x="455.05345268542203" y="461.5" font-size="9.8" font-weight="normal" text-anchor="start" fill="#222" font-family='"Liberation Sans", sans-serif'  >5</text>
<line x1="412.3" y1="403.4" x2="457.4" y2="403.4" stroke="#222" stroke-width="1.7" />
<line x1="412.3" y1="398.79999999999995" x2="412.3" y2="408.2" stroke="#222" stroke-width="1.7" />
<line x1="457.4" y1="398.79999999999995" x2="457.4" y2="408.2" stroke="#222" stroke-width="1.7" />
<text x="432.55" y="411.7" font-size="8" font-weight="normal" text-anchor="middle" fill="#222" font-family='"Liberation Sans", sans-serif'  >10.8</text>
<text x="418.1" y="389.2" font-size="9.7" font-weight="normal" text-anchor="middle" fill="#222" font-family='"Liberation Sans", sans-serif'  >P3</text>
<path d="M495.9 445.7 V382.8 H574.3 V445.7" fill="none" stroke="#bdbdbd" stroke-width="0.9"/>
<path d="M521.5 445.7 C521.7 445.6 522.4 447.8 522.9 445.0 C523.4 442.2 523.6 435.0 524.3 428.7 C525.0 422.4 526.4 410.1 527.2 407.2 C528.1 404.3 528.6 408.9 529.4 411.5 C530.2 414.1 531.4 419.2 532.2 423.0 C533.0 426.8 533.9 432.2 534.4 434.5 C534.9 436.8 534.9 436.9 535.5 436.6 C536.1 436.4 537.3 433.5 538.0 433.0 C538.7 432.5 539.1 433.9 539.8 433.8 C540.5 433.7 541.5 431.7 542.3 432.3 C543.1 432.9 543.8 436.1 544.5 437.4 C545.2 438.7 545.5 439.4 546.6 440.2 C547.7 441.0 549.7 441.7 550.9 442.4 C552.1 443.1 552.6 444.1 553.8 444.5 C555.0 444.9 556.7 444.7 558.1 444.9 C559.5 445.1 561.7 445.6 562.4 445.7 Z" fill="#AEDA90" stroke="#84BA63" stroke-width="0.8"/>
<line x1="495.9" y1="445.7" x2="574.3" y2="445.7" stroke="#c9dcbc" stroke-width="0.9" />
<rect x="488.9" y="444.59999999999997" width="7" height="2.2" fill="#000" stroke="none" stroke-width="0" />
<rect x="492.9" y="440.67499999999995" width="3" height="1.1" fill="#000" stroke="none" stroke-width="0" />
<rect x="492.9" y="436.2" width="3" height="1.1" fill="#000" stroke="none" stroke-width="0" />
<rect x="492.9" y="431.72499999999997" width="3" height="1.1" fill="#000" stroke="none" stroke-width="0" />
<rect x="488.9" y="426.7" width="7" height="2.2" fill="#000" stroke="none" stroke-width="0" />
<rect x="492.9" y="422.775" width="3" height="1.1" fill="#000" stroke="none" stroke-width="0" />
<rect x="492.9" y="418.3" width="3" height="1.1" fill="#000" stroke="none" stroke-width="0" />
<rect x="492.9" y="413.825" width="3" height="1.1" fill="#000" stroke="none" stroke-width="0" />
<rect x="488.9" y="408.79999999999995" width="7" height="2.2" fill="#000" stroke="none" stroke-width="0" />
<rect x="492.9" y="404.87499999999994" width="3" height="1.1" fill="#000" stroke="none" stroke-width="0" />
<rect x="492.9" y="400.4" width="3" height="1.1" fill="#000" stroke="none" stroke-width="0" />
<rect x="492.9" y="395.92499999999995" width="3" height="1.1" fill="#000" stroke="none" stroke-width="0" />
<rect x="488.9" y="390.9" width="7" height="2.2" fill="#000" stroke="none" stroke-width="0" />
<rect x="492.9" y="386.97499999999997" width="3" height="1.1" fill="#000" stroke="none" stroke-width="0" />
<rect x="492.9" y="382.5" width="3" height="1.1" fill="#000" stroke="none" stroke-width="0" />
<text x="482.79999999999995" y="445.2" font-size="9.6" font-weight="normal" text-anchor="end" fill="#222" font-family='"Liberation Sans", sans-serif'  >0</text>
<text x="482.79999999999995" y="413.7" font-size="9.6" font-weight="normal" text-anchor="end" fill="#222" font-family='"Liberation Sans", sans-serif'  >4.0</text>
<rect x="498.70716112531966" y="445.7" width="4.611764705882353" height="3.2" fill="#000" stroke="none" stroke-width="0" />
<rect x="504.72250639386186" y="445.7" width="3.4086956521739116" height="3.2" fill="#000" stroke="none" stroke-width="0" />
<rect x="510.23657289002557" y="445.7" width="6.015345268542199" height="3.2" fill="#000" stroke="none" stroke-width="0" />
<rect x="517.3547314578005" y="445.7" width="5.213299232736575" height="3.2" fill="#000" stroke="none" stroke-width="0" />
<rect x="523.7710997442455" y="445.7" width="4.611764705882351" height="3.2" fill="#000" stroke="none" stroke-width="0" />
<rect x="498.70716112531966" y="445.7" width="2.506393861892583" height="8" fill="#000" stroke="none" stroke-width="0" />
<rect x="505.6248081841432" y="445.7" width="2.0051150895140664" height="5.8" fill="#000" stroke="none" stroke-width="0" />
<rect x="510.23657289002557" y="445.7" width="6.015345268542199" height="8" fill="#000" stroke="none" stroke-width="0" />
<rect x="519.1593350383631" y="445.7" width="2.305882352941177" height="5.8" fill="#000" stroke="none" stroke-width="0" />
<rect x="525.4754475703324" y="445.7" width="2.305882352941177" height="8" fill="#000" stroke="none" stroke-width="0" />
<rect x="534.9997442455243" y="445.7" width="1.2030690537084427" height="4" fill="#000" stroke="none" stroke-width="0" />
<rect x="538.6089514066496" y="445.7" width="1.3033248081841402" height="4" fill="#000" stroke="none" stroke-width="0" />
<rect x="541.1153452685422" y="445.7" width="1.8046035805626568" height="6" fill="#000" stroke="none" stroke-width="0" />
<rect x="544.6242966751918" y="445.7" width="3.208184143222502" height="8" fill="#000" stroke="none" stroke-width="0" />
<rect x="553.1460358056265" y="445.7" width="1.3033248081841402" height="4" fill="#000" stroke="none" stroke-width="0" />
<rect x="555.6524296675192" y="445.7" width="1.2030690537084356" height="4" fill="#000" stroke="none" stroke-width="0" />
<rect x="558.058567774936" y="445.7" width="1.2030690537084427" height="4" fill="#000" stroke="none" stroke-width="0" />
<rect x="561.1664961636828" y="445.7" width="5.514066496163682" height="8" fill="#000" stroke="none" stroke-width="0" />
<rect x="571.2923273657289" y="445.7" width="1.0025575447570332" height="4" fill="#000" stroke="none" stroke-width="0" />
<text x="519.9613810741688" y="470.2" font-size="9.3" font-weight="normal" text-anchor="middle" fill="#222" font-family='"Liberation Sans", sans-serif'  >0</text>
<text x="557.1562659846547" y="470.2" font-size="9.3" font-weight="normal" text-anchor="start" fill="#222" font-family='"Liberation Sans", sans-serif'  >10</text>
<text x="569.0867007672634" y="462.5" font-size="9.8" font-weight="normal" text-anchor="start" fill="#222" font-family='"Liberation Sans", sans-serif'  >5</text>
<line x1="525.2" y1="402.6" x2="570.3" y2="402.6" stroke="#222" stroke-width="1.7" />
<line x1="525.2" y1="398.0" x2="525.2" y2="407.40000000000003" stroke="#222" stroke-width="1.7" />
<line x1="570.3" y1="398.0" x2="570.3" y2="407.40000000000003" stroke="#222" stroke-width="1.7" />
<text x="549.05" y="411.90000000000003" font-size="8" font-weight="normal" text-anchor="middle" fill="#222" font-family='"Liberation Sans", sans-serif'  >12.6</text>
<text x="533" y="390.4" font-size="9.7" font-weight="normal" text-anchor="middle" fill="#222" font-family='"Liberation Sans", sans-serif'  >P4</text>
<path d="M611 448 V382.1 H689.5 V448" fill="none" stroke="#bdbdbd" stroke-width="0.9"/>
<path d="M636.5 448.0 C636.8 447.8 637.6 449.5 638.2 446.5 C638.8 443.5 639.4 434.4 640.0 430.0 C640.6 425.6 640.7 419.3 641.6 420.0 C642.5 420.7 644.1 433.2 645.3 434.3 C646.5 435.4 647.7 426.4 648.9 426.4 C650.1 426.4 651.3 431.7 652.4 434.3 C653.5 436.9 654.4 440.8 655.5 442.2 C656.6 443.6 657.7 442.4 659.0 442.5 C660.3 442.6 661.6 442.3 663.4 443.0 C665.2 443.7 667.8 446.2 669.8 446.9 C671.8 447.5 673.7 446.7 675.3 446.9 C676.9 447.1 678.6 447.8 679.3 448.0 Z" fill="#AEDA90" stroke="#84BA63" stroke-width="0.8"/>
<line x1="611" y1="448" x2="689.5" y2="448" stroke="#c9dcbc" stroke-width="0.9" />
<rect x="604" y="446.9" width="7" height="2.2" fill="#000" stroke="none" stroke-width="0" />
<rect x="608" y="442.025" width="3" height="1.1" fill="#000" stroke="none" stroke-width="0" />
<rect x="608" y="436.59999999999997" width="3" height="1.1" fill="#000" stroke="none" stroke-width="0" />
<rect x="608" y="431.175" width="3" height="1.1" fill="#000" stroke="none" stroke-width="0" />
<rect x="604" y="425.2" width="7" height="2.2" fill="#000" stroke="none" stroke-width="0" />
<rect x="608" y="420.325" width="3" height="1.1" fill="#000" stroke="none" stroke-width="0" />
<rect x="608" y="414.9" width="3" height="1.1" fill="#000" stroke="none" stroke-width="0" />
<rect x="608" y="409.475" width="3" height="1.1" fill="#000" stroke="none" stroke-width="0" />
<rect x="604" y="403.5" width="7" height="2.2" fill="#000" stroke="none" stroke-width="0" />
<rect x="608" y="398.625" width="3" height="1.1" fill="#000" stroke="none" stroke-width="0" />
<rect x="608" y="393.2" width="3" height="1.1" fill="#000" stroke="none" stroke-width="0" />
<rect x="608" y="387.77500000000003" width="3" height="1.1" fill="#000" stroke="none" stroke-width="0" />
<rect x="604" y="381.79999999999995" width="7" height="2.2" fill="#000" stroke="none" stroke-width="0" />
<text x="597.9" y="447.4" font-size="9.6" font-weight="normal" text-anchor="end" fill="#222" font-family='"Liberation Sans", sans-serif'  >0</text>
<text x="597.9" y="407.59999999999997" font-size="9.6" font-weight="normal" text-anchor="end" fill="#222" font-family='"Liberation Sans", sans-serif'  >4.0</text>
<rect x="613.8107416879795" y="448" width="4.617647058823531" height="3.2" fill="#000" stroke="none" stroke-width="0" />
<rect x="619.8337595907929" y="448" width="3.4130434782608687" height="3.2" fill="#000" stroke="none" stroke-width="0" />
<rect x="625.3548593350383" y="448" width="6.0230179028133" height="3.2" fill="#000" stroke="none" stroke-width="0" />
<rect x="632.4820971867008" y="448" width="5.2199488491048625" height="3.2" fill="#000" stroke="none" stroke-width="0" />
<rect x="638.9066496163683" y="448" width="4.617647058823528" height="3.2" fill="#000" stroke="none" stroke-width="0" />
<rect x="613.8107416879795" y="448" width="2.5095907928388748" height="8" fill="#000" stroke="none" stroke-width="0" />
<rect x="620.7372122762148" y="448" width="2.0076726342711" height="5.8" fill="#000" stroke="none" stroke-width="0" />
<rect x="625.3548593350383" y="448" width="6.0230179028133" height="8" fill="#000" stroke="none" stroke-width="0" />
<rect x="634.2890025575448" y="448" width="2.308823529411766" height="5.8" fill="#000" stroke="none" stroke-width="0" />
<rect x="640.6131713554987" y="448" width="2.308823529411766" height="8" fill="#000" stroke="none" stroke-width="0" />
<rect x="650.1496163682865" y="448" width="1.204603580562663" height="4" fill="#000" stroke="none" stroke-width="0" />
<rect x="653.7634271099744" y="448" width="1.304987212276212" height="4" fill="#000" stroke="none" stroke-width="0" />
<rect x="656.2730179028133" y="448" width="1.806905370843987" height="6" fill="#000" stroke="none" stroke-width="0" />
<rect x="659.7864450127877" y="448" width="3.212276214833756" height="8" fill="#000" stroke="none" stroke-width="0" />
<rect x="668.3190537084399" y="448" width="1.304987212276212" height="4" fill="#000" stroke="none" stroke-width="0" />
<rect x="670.8286445012787" y="448" width="1.2046035805626558" height="4" fill="#000" stroke="none" stroke-width="0" />
<rect x="673.2378516624041" y="448" width="1.204603580562663" height="4" fill="#000" stroke="none" stroke-width="0" />
<rect x="676.3497442455243" y="448" width="5.521099744245525" height="8" fill="#000" stroke="none" stroke-width="0" />
<rect x="686.4884910485933" y="448" width="1.00383631713555" height="4" fill="#000" stroke="none" stroke-width="0" />
<text x="635.0920716112532" y="472.5" font-size="9.3" font-weight="normal" text-anchor="middle" fill="#222" font-family='"Liberation Sans", sans-serif'  >0</text>
<text x="672.3343989769821" y="472.5" font-size="9.3" font-weight="normal" text-anchor="start" fill="#222" font-family='"Liberation Sans", sans-serif'  >10</text>
<text x="684.2800511508951" y="464.8" font-size="9.8" font-weight="normal" text-anchor="start" fill="#222" font-family='"Liberation Sans", sans-serif'  >5</text>
<line x1="640.8" y1="401.6" x2="686.3" y2="401.6" stroke="#222" stroke-width="1.7" />
<line x1="640.8" y1="397.0" x2="640.8" y2="406.40000000000003" stroke="#222" stroke-width="1.7" />
<line x1="686.3" y1="397.0" x2="686.3" y2="406.40000000000003" stroke="#222" stroke-width="1.7" />
<text x="663.55" y="409.20000000000005" font-size="8" font-weight="normal" text-anchor="middle" fill="#222" font-family='"Liberation Sans", sans-serif'  >21.2</text>
<text x="647.6" y="389.4" font-size="9.7" font-weight="normal" text-anchor="middle" fill="#222" font-family='"Liberation Sans", sans-serif'  >P5</text>
<line x1="405.6" y1="517.5" x2="648" y2="517.5" stroke="#222" stroke-width="1" />
<line x1="648" y1="518" x2="648" y2="759" stroke="#777" stroke-width="1" />
<path d="M405.6 759.0 C419.0 759.0 472.1 759.2 486.0 759.0 C499.9 758.8 488.1 759.8 489.0 757.5 C489.9 755.2 490.7 750.3 491.5 745.0 C492.3 739.7 492.9 740.8 494.0 725.8 C495.1 710.8 496.9 672.9 498.1 655.3 C499.3 637.7 500.2 627.0 501.0 620.0 C501.8 613.0 502.2 611.5 503.1 613.0 C504.0 614.5 504.9 624.5 506.1 629.2 C507.3 633.9 508.8 635.5 510.2 641.2 C511.6 646.9 512.9 655.3 514.2 663.4 C515.5 671.5 517.1 683.2 518.2 689.6 C519.3 696.0 520.1 698.6 521.0 702.0 C521.9 705.4 522.4 708.8 523.3 709.7 C524.2 710.7 525.1 708.7 526.3 707.7 C527.5 706.7 529.0 702.9 530.3 703.6 C531.6 704.3 532.8 708.0 534.3 711.7 C535.8 715.4 537.7 722.4 539.4 725.8 C541.1 729.2 542.5 729.6 544.4 732.0 C546.3 734.4 548.8 738.6 550.8 740.2 C552.8 741.8 554.8 740.7 556.6 741.7 C558.4 742.7 559.9 744.5 561.6 746.0 C563.3 747.5 564.8 750.3 566.6 751.0 C568.4 751.7 570.5 749.8 572.4 750.3 C574.3 750.8 576.0 752.9 578.1 753.9 C580.2 754.9 582.4 755.7 585.3 756.3 C588.2 756.9 590.8 757.0 595.3 757.5 C599.8 758.0 603.8 758.8 612.6 759.0 C621.4 759.2 642.1 759.0 648.0 759.0 Z" fill="#BFCBCF" stroke="none"/>
<path d="M487.0 759.0 C487.5 758.6 489.1 758.8 490.0 756.5 C490.9 754.2 491.8 749.1 492.5 745.0 C493.2 740.9 493.6 744.5 494.5 732.0 C495.4 719.5 497.0 685.7 498.1 670.0 C499.2 654.3 500.1 644.8 501.0 638.0 C501.9 631.2 502.3 628.0 503.5 629.2 C504.7 630.4 506.8 639.3 508.2 645.3 C509.6 651.3 510.9 656.3 512.2 665.4 C513.5 674.5 515.2 693.7 516.2 699.6 C517.2 705.5 517.4 702.1 518.2 700.6 C519.0 699.1 520.2 690.8 521.2 690.6 C522.2 690.4 523.1 695.1 524.3 699.6 C525.5 704.1 526.8 713.0 528.3 717.7 C529.8 722.4 531.6 725.5 533.3 727.8 C535.0 730.1 536.9 731.0 538.4 731.5 C539.9 732.0 540.9 730.4 542.0 730.8 C543.1 731.2 543.6 732.5 545.1 733.8 C546.6 735.1 548.9 737.5 550.8 738.8 C552.7 740.1 554.7 740.5 556.6 741.7 C558.5 742.9 560.4 744.9 562.3 746.0 C564.2 747.1 566.1 747.7 568.0 748.1 C569.9 748.5 571.9 748.0 573.8 748.6 C575.7 749.2 577.1 750.4 579.5 751.7 C581.9 753.0 585.3 755.2 588.2 756.3 C591.1 757.3 594.0 757.5 596.8 758.0 C599.6 758.5 603.6 758.8 605.0 759.0 Z" fill="#B9C2CB" stroke="none"/>
<path d="M489.0 759.0 C489.6 758.2 491.5 756.5 492.5 754.0 C493.5 751.5 494.2 747.4 495.0 744.0 C495.8 740.6 495.9 738.9 497.1 733.9 C498.3 728.9 500.6 718.1 502.1 713.7 C503.6 709.3 504.8 707.9 506.1 707.7 C507.5 707.5 508.7 711.2 510.2 712.7 C511.7 714.2 513.7 715.9 515.2 716.7 C516.7 717.5 517.7 718.5 519.2 717.7 C520.7 716.9 522.6 711.0 524.3 711.7 C526.0 712.4 527.6 718.1 529.3 721.8 C531.0 725.5 532.4 731.3 534.3 733.9 C536.2 736.5 538.4 735.1 540.7 737.4 C543.0 739.6 545.7 745.5 547.9 747.4 C550.1 749.3 551.5 747.8 553.7 748.9 C555.9 750.0 558.5 752.5 560.9 753.9 C563.3 755.3 565.1 756.7 568.0 757.5 C570.9 758.3 574.5 758.9 578.1 758.9 C581.7 758.9 586.0 757.9 589.6 757.5 C593.2 757.1 596.4 756.4 599.7 756.5 C603.1 756.6 607.1 757.8 609.7 758.2 C612.3 758.6 614.5 758.9 615.5 759.0 Z" fill="#AFA9AA" stroke="none"/>
<path d="M489.0 759.0 C489.6 758.2 491.5 756.5 492.5 754.0 C493.5 751.5 494.2 747.4 495.0 744.0 C495.8 740.6 495.9 738.9 497.1 733.9 C498.3 728.9 500.6 718.1 502.1 713.7 C503.6 709.3 504.8 707.9 506.1 707.7 C507.5 707.5 508.7 711.2 510.2 712.7 C511.7 714.2 513.7 715.9 515.2 716.7 C516.7 717.5 517.7 718.5 519.2 717.7 C520.7 716.9 522.6 711.0 524.3 711.7 C526.0 712.4 527.6 718.1 529.3 721.8 C531.0 725.5 532.4 731.3 534.3 733.9 C536.2 736.5 538.4 735.1 540.7 737.4 C543.0 739.6 545.7 745.5 547.9 747.4 C550.1 749.3 551.5 747.8 553.7 748.9 C555.9 750.0 558.5 752.5 560.9 753.9 C563.3 755.3 565.1 756.7 568.0 757.5 C570.9 758.3 574.5 758.9 578.1 758.9 C581.7 758.9 586.0 757.9 589.6 757.5 C593.2 757.1 596.4 756.4 599.7 756.5 C603.1 756.6 607.1 757.8 609.7 758.2 C612.3 758.6 614.5 758.9 615.5 759.0" fill="none" stroke="#8C2A25" stroke-width="2.2"/>
<path d="M487.0 759.0 C487.5 758.6 489.1 758.8 490.0 756.5 C490.9 754.2 491.8 749.1 492.5 745.0 C493.2 740.9 493.6 744.5 494.5 732.0 C495.4 719.5 497.0 685.7 498.1 670.0 C499.2 654.3 500.1 644.8 501.0 638.0 C501.9 631.2 502.3 628.0 503.5 629.2 C504.7 630.4 506.8 639.3 508.2 645.3 C509.6 651.3 510.9 656.3 512.2 665.4 C513.5 674.5 515.2 693.7 516.2 699.6 C517.2 705.5 517.4 702.1 518.2 700.6 C519.0 699.1 520.2 690.8 521.2 690.6 C522.2 690.4 523.1 695.1 524.3 699.6 C525.5 704.1 526.8 713.0 528.3 717.7 C529.8 722.4 531.6 725.5 533.3 727.8 C535.0 730.1 536.9 731.0 538.4 731.5 C539.9 732.0 540.9 730.4 542.0 730.8 C543.1 731.2 543.6 732.5 545.1 733.8 C546.6 735.1 548.9 737.5 550.8 738.8 C552.7 740.1 554.7 740.5 556.6 741.7 C558.5 742.9 560.4 744.9 562.3 746.0 C564.2 747.1 566.1 747.7 568.0 748.1 C569.9 748.5 571.9 748.0 573.8 748.6 C575.7 749.2 577.1 750.4 579.5 751.7 C581.9 753.0 585.3 755.2 588.2 756.3 C591.1 757.3 594.0 757.5 596.8 758.0 C599.6 758.5 603.6 758.8 605.0 759.0" fill="none" stroke="#7B2BE3" stroke-width="2.2"/>
<line x1="405.6" y1="518" x2="405.6" y2="759.5" stroke="#000" stroke-width="1" />
<line x1="399.6" y1="759.0" x2="405.6" y2="759.0" stroke="#000" stroke-width="2.2" />
<line x1="402.8" y1="747.56" x2="405.6" y2="747.56" stroke="#000" stroke-width="1.2" />
<line x1="402.8" y1="736.12" x2="405.6" y2="736.12" stroke="#000" stroke-width="1.2" />
<line x1="402.8" y1="724.68" x2="405.6" y2="724.68" stroke="#000" stroke-width="1.2" />
<line x1="402.8" y1="713.24" x2="405.6" y2="713.24" stroke="#000" stroke-width="1.2" />
<line x1="399.6" y1="701.8" x2="405.6" y2="701.8" stroke="#000" stroke-width="2.2" />
<line x1="402.8" y1="690.36" x2="405.6" y2="690.36" stroke="#000" stroke-width="1.2" />
<line x1="402.8" y1="678.92" x2="405.6" y2="678.92" stroke="#000" stroke-width="1.2" />
<line x1="402.8" y1="667.48" x2="405.6" y2="667.48" stroke="#000" stroke-width="1.2" />
<line x1="402.8" y1="656.04" x2="405.6" y2="656.04" stroke="#000" stroke-width="1.2" />
<line x1="399.6" y1="644.6" x2="405.6" y2="644.6" stroke="#000" stroke-width="2.2" />
<line x1="402.8" y1="633.16" x2="405.6" y2="633.16" stroke="#000" stroke-width="1.2" />
<line x1="402.8" y1="621.72" x2="405.6" y2="621.72" stroke="#000" stroke-width="1.2" />
<line x1="402.8" y1="610.28" x2="405.6" y2="610.28" stroke="#000" stroke-width="1.2" />
<line x1="402.8" y1="598.84" x2="405.6" y2="598.84" stroke="#000" stroke-width="1.2" />
<line x1="399.6" y1="587.4" x2="405.6" y2="587.4" stroke="#000" stroke-width="2.2" />
<line x1="402.8" y1="575.96" x2="405.6" y2="575.96" stroke="#000" stroke-width="1.2" />
<line x1="402.8" y1="564.52" x2="405.6" y2="564.52" stroke="#000" stroke-width="1.2" />
<line x1="402.8" y1="553.08" x2="405.6" y2="553.08" stroke="#000" stroke-width="1.2" />
<line x1="402.8" y1="541.64" x2="405.6" y2="541.64" stroke="#000" stroke-width="1.2" />
<line x1="399.6" y1="530.2" x2="405.6" y2="530.2" stroke="#000" stroke-width="2.2" />
<text x="394.1" y="762.168" font-size="8.8" font-weight="normal" text-anchor="end" fill="#333" font-family='"Liberation Sans", sans-serif'  >0</text>
<text x="394.1" y="704.968" font-size="8.8" font-weight="normal" text-anchor="end" fill="#333" font-family='"Liberation Sans", sans-serif'  >5.0</text>
<text x="394.1" y="647.768" font-size="8.8" font-weight="normal" text-anchor="end" fill="#333" font-family='"Liberation Sans", sans-serif'  >10</text>
<text x="394.1" y="590.568" font-size="8.8" font-weight="normal" text-anchor="end" fill="#333" font-family='"Liberation Sans", sans-serif'  >15</text>
<text x="394.1" y="533.368" font-size="8.8" font-weight="normal" text-anchor="end" fill="#333" font-family='"Liberation Sans", sans-serif'  >20</text>
<line x1="405.6" y1="760.3" x2="648" y2="760.3" stroke="#111" stroke-width="1.2" />
<line x1="424.98" y1="760.3" x2="424.98" y2="764.0999999999999" stroke="#000" stroke-width="1.6" />
<line x1="428.96" y1="760.3" x2="428.96" y2="764.0999999999999" stroke="#000" stroke-width="1.6" />
<line x1="432.94" y1="760.3" x2="432.94" y2="764.0999999999999" stroke="#000" stroke-width="1.6" />
<line x1="436.92" y1="760.3" x2="436.92" y2="764.0999999999999" stroke="#000" stroke-width="1.6" />
<line x1="440.9" y1="760.3" x2="440.9" y2="766.8" stroke="#000" stroke-width="1.6" />
<line x1="444.88" y1="760.3" x2="444.88" y2="764.0999999999999" stroke="#000" stroke-width="1.6" />
<line x1="448.86" y1="760.3" x2="448.86" y2="764.0999999999999" stroke="#000" stroke-width="1.6" />
<line x1="452.84000000000003" y1="760.3" x2="452.84000000000003" y2="764.0999999999999" stroke="#000" stroke-width="1.6" />
<line x1="468.88" y1="760.3" x2="468.88" y2="764.0999999999999" stroke="#000" stroke-width="1.6" />
<line x1="472.92" y1="760.3" x2="472.92" y2="764.0999999999999" stroke="#000" stroke-width="1.6" />
<line x1="476.96" y1="760.3" x2="476.96" y2="764.0999999999999" stroke="#000" stroke-width="1.6" />
<line x1="481.0" y1="760.3" x2="481.0" y2="766.8" stroke="#000" stroke-width="1.6" />
<line x1="485.04" y1="760.3" x2="485.04" y2="764.0999999999999" stroke="#000" stroke-width="1.6" />
<line x1="489.08" y1="760.3" x2="489.08" y2="764.0999999999999" stroke="#000" stroke-width="1.6" />
<line x1="493.12" y1="760.3" x2="493.12" y2="764.0999999999999" stroke="#000" stroke-width="1.6" />
<line x1="497.15999999999997" y1="760.3" x2="497.15999999999997" y2="764.0999999999999" stroke="#000" stroke-width="1.6" />
<rect x="454.5" y="760.3" width="12.6" height="6" fill="#000" stroke="none" stroke-width="0" />
<line x1="520.8873617164244" y1="760.3" x2="520.8873617164244" y2="764.0999999999999" stroke="#000" stroke-width="1.6" />
<line x1="532.4037300586659" y1="760.3" x2="532.4037300586659" y2="764.0999999999999" stroke="#000" stroke-width="1.6" />
<line x1="540.5747234328487" y1="760.3" x2="540.5747234328487" y2="764.0999999999999" stroke="#000" stroke-width="1.6" />
<line x1="546.9126382835757" y1="760.3" x2="546.9126382835757" y2="765.5" stroke="#000" stroke-width="1.6" />
<line x1="552.0910917750903" y1="760.3" x2="552.0910917750903" y2="764.0999999999999" stroke="#000" stroke-width="1.6" />
<line x1="556.4694118169324" y1="760.3" x2="556.4694118169324" y2="764.0999999999999" stroke="#000" stroke-width="1.6" />
<line x1="560.2620851492732" y1="760.3" x2="560.2620851492732" y2="764.0999999999999" stroke="#000" stroke-width="1.6" />
<line x1="563.6074601173318" y1="760.3" x2="563.6074601173318" y2="764.0999999999999" stroke="#000" stroke-width="1.6" />
<line x1="583.9694307498117" y1="760.3" x2="583.9694307498117" y2="764.0999999999999" stroke="#000" stroke-width="1.6" />
<line x1="594.1298963973245" y1="760.3" x2="594.1298963973245" y2="764.0999999999999" stroke="#000" stroke-width="1.6" />
<line x1="601.3388614996234" y1="760.3" x2="601.3388614996234" y2="764.0999999999999" stroke="#000" stroke-width="1.6" />
<line x1="606.9305692501882" y1="760.3" x2="606.9305692501882" y2="765.5" stroke="#000" stroke-width="1.6" />
<line x1="611.4993271471362" y1="760.3" x2="611.4993271471362" y2="764.0999999999999" stroke="#000" stroke-width="1.6" />
<line x1="615.3621569088226" y1="760.3" x2="615.3621569088226" y2="764.0999999999999" stroke="#000" stroke-width="1.6" />
<line x1="618.7082922494351" y1="760.3" x2="618.7082922494351" y2="764.0999999999999" stroke="#000" stroke-width="1.6" />
<line x1="621.659792794649" y1="760.3" x2="621.659792794649" y2="764.0999999999999" stroke="#000" stroke-width="1.6" />
<line x1="641.6694307498117" y1="760.3" x2="641.6694307498117" y2="764.0999999999999" stroke="#000" stroke-width="1.6" />
<line x1="421" y1="760.3" x2="421" y2="766.8" stroke="#000" stroke-width="2.3" />
<line x1="501.2" y1="760.3" x2="501.2" y2="766.8" stroke="#000" stroke-width="2.3" />
<line x1="566.6" y1="760.3" x2="566.6" y2="766.8" stroke="#000" stroke-width="2.3" />
<line x1="624.3" y1="760.3" x2="624.3" y2="766.8" stroke="#000" stroke-width="2.3" />
<path d="M405.6 759.0 C419.0 759.0 472.1 759.2 486.0 759.0 C499.9 758.8 488.1 759.8 489.0 757.5 C489.9 755.2 490.7 750.3 491.5 745.0 C492.3 739.7 492.9 740.8 494.0 725.8 C495.1 710.8 496.9 672.9 498.1 655.3 C499.3 637.7 500.2 627.0 501.0 620.0 C501.8 613.0 502.2 611.5 503.1 613.0 C504.0 614.5 504.9 624.5 506.1 629.2 C507.3 633.9 508.8 635.5 510.2 641.2 C511.6 646.9 512.9 655.3 514.2 663.4 C515.5 671.5 517.1 683.2 518.2 689.6 C519.3 696.0 520.1 698.6 521.0 702.0 C521.9 705.4 522.4 708.8 523.3 709.7 C524.2 710.7 525.1 708.7 526.3 707.7 C527.5 706.7 529.0 702.9 530.3 703.6 C531.6 704.3 532.8 708.0 534.3 711.7 C535.8 715.4 537.7 722.4 539.4 725.8 C541.1 729.2 542.5 729.6 544.4 732.0 C546.3 734.4 548.8 738.6 550.8 740.2 C552.8 741.8 554.8 740.7 556.6 741.7 C558.4 742.7 559.9 744.5 561.6 746.0 C563.3 747.5 564.8 750.3 566.6 751.0 C568.4 751.7 570.5 749.8 572.4 750.3 C574.3 750.8 576.0 752.9 578.1 753.9 C580.2 754.9 582.4 755.7 585.3 756.3 C588.2 756.9 590.8 757.0 595.3 757.5 C599.8 758.0 603.8 758.8 612.6 759.0 C621.4 759.2 642.1 759.0 648.0 759.0" fill="none" stroke="#22CC22" stroke-width="2.3"/>
<text x="419" y="780.8" font-size="8.2" fill="#333" font-family='"Liberation Sans", sans-serif'>-10<tspan dy="-5.41" dx="1.3" font-size="8.04">3</tspan></text>
<text x="466.5" y="780.8" font-size="8.2" font-weight="normal" text-anchor="middle" fill="#333" font-family='"Liberation Sans", sans-serif'  >0</text>
<text x="500.9" y="780.8" font-size="8.2" fill="#333" font-family='"Liberation Sans", sans-serif'>10<tspan dy="-5.41" dx="1.3" font-size="8.04">3</tspan></text>
<text x="566.2" y="780.8" font-size="8.2" fill="#333" font-family='"Liberation Sans", sans-serif'>10<tspan dy="-5.41" dx="1.3" font-size="8.04">4</tspan></text>
<text x="624" y="780.8" font-size="8.2" fill="#333" font-family='"Liberation Sans", sans-serif'>10<tspan dy="-5.41" dx="1.3" font-size="8.04">5</tspan></text>
<text transform="translate(373,643) rotate(-90)" font-size="9" font-weight="bold" text-anchor="middle" font-family='"Liberation Sans", sans-serif' dominant-baseline="central">Count</text>
<text x="528.9" y="792.3" font-size="9" font-weight="bold" text-anchor="middle" fill="#000" font-family='"Liberation Sans", sans-serif'  >FITC-A</text>
<rect x="427" y="528.4" width="200.8" height="72.9" fill="#fff" stroke="#111" stroke-width="1.4" />
<line x1="427" y1="546" x2="627.8" y2="546" stroke="#333" stroke-width="0.9" />
<line x1="427" y1="564.7" x2="627.8" y2="564.7" stroke="#333" stroke-width="0.9" />
<line x1="427" y1="583" x2="627.8" y2="583" stroke="#333" stroke-width="0.9" />
<line x1="440.8" y1="528.4" x2="440.8" y2="601.3" stroke="#333" stroke-width="0.9" />
<line x1="579.6" y1="528.4" x2="579.6" y2="601.3" stroke="#333" stroke-width="0.9" />
<rect x="428.8" y="549.5" width="10" height="11" fill="#22DD22" stroke="none" stroke-width="0" />
<rect x="428.8" y="567.8" width="10" height="11" fill="#8A22EE" stroke="none" stroke-width="0" />
<rect x="428.8" y="586.2" width="10" height="11" fill="#CC1515" stroke="none" stroke-width="0" />
<text x="511" y="540.7" font-size="8.5" font-weight="bold" text-anchor="middle" fill="#000" font-family='"Liberation Sans", sans-serif'  >Name</text>
<text x="604.5" y="540.7" font-size="8.5" font-weight="bold" text-anchor="middle" fill="#000" font-family='"Liberation Sans", sans-serif'  >Count</text>
<text x="444.6" y="558.2" font-size="8.56" font-style="italic" font-family='"Liberation Sans", sans-serif'>FITC-A, Unglycosylated ORF8</text>
<text x="444.6" y="576.3" font-size="8.56" font-weight="normal" text-anchor="start" fill="#000" font-family='"Liberation Sans", sans-serif'  >FITC-A, Unglycosylated ORF8-P2</text>
<text x="444.6" y="595" font-size="8.56" font-family='"Liberation Sans", sans-serif'>FITC-A, Unglycosylated ORF8-P<tspan font-weight="bold" font-size="9.5">3</tspan></text>
<text x="603" y="558.2" font-size="8.56" font-style="italic" text-anchor="middle" font-family='"Liberation Sans", sans-serif'>417</text>
<text x="603.5" y="576.3" font-size="8.56" font-weight="normal" text-anchor="middle" fill="#000" font-family='"Liberation Sans", sans-serif'  >382</text>
<text x="603.5" y="595" font-size="8.56" font-weight="normal" text-anchor="middle" fill="#000" font-family='"Liberation Sans", sans-serif'  >211</text>
</svg></body></html>
